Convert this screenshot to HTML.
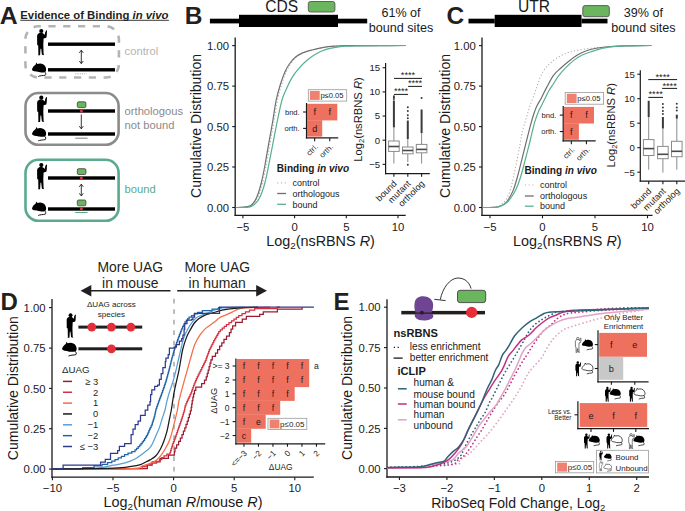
<!DOCTYPE html>
<html><head><meta charset="utf-8"><title>Figure</title>
<style>html,body{margin:0;padding:0;background:#fff;width:685px;height:511px;overflow:hidden}svg{display:block}</style>
</head><body>
<svg width="685" height="511" viewBox="0 0 685 511" font-family='"Liberation Sans", sans-serif'>
<defs>
<g id="hum"><circle cx="13.3" cy="4.5" r="2.1"/><path d="M11.6 6.3 C10.8 6.9 10.2 7.2 9.9 7.6 C9.2 8.3 9.1 9.2 9.1 10.4 L9.2 18.4 L10.2 18.9 L10.4 28.0 L10.0 28.7 L12.1 28.7 L12.5 22.2 L13.2 22.2 L13.9 28.2 L16.3 28.7 L15.6 27.6 L15.3 18.6 L15.6 12.0 L18.3 11.2 C18.8 10.0 18.9 7.5 18.9 5.8 L19.1 4.3 L18.1 3.8 L17.6 5.2 L17.2 5.6 L16.9 8.3 L15.9 7.4 C15.2 7.0 14.6 6.7 14.2 6.3 Z"/></g>
<g id="mou"><path d="M4.0 11.4 C4.3 9.6 6.2 7.6 7.7 6.6 L8.2 4.6 L9.4 6.0 C12.0 5.0 15.6 5.4 17.3 8.4 C18.5 10.5 18.4 12.8 17.2 13.9 C14.6 14.7 11.0 14.6 8.6 13.6 L6.4 13.3 C5.0 12.9 4.0 12.3 4.0 11.4 Z"/><path d="M16.6 13.8 C17.8 14.9 18.1 16.4 17.3 17.2 C15.0 17.7 12.0 17.5 10.2 18.5" fill="none" stroke="#000" stroke-width="0.9"/></g>
<g id="humw"><circle cx="13.3" cy="4.5" r="2.1" fill="#fff" stroke="#000" stroke-width="0.9"/><path d="M11.6 6.3 C10.8 6.9 10.2 7.2 9.9 7.6 C9.2 8.3 9.1 9.2 9.1 10.4 L9.2 18.4 L10.2 18.9 L10.4 28.0 L10.0 28.7 L12.1 28.7 L12.5 22.2 L13.2 22.2 L13.9 28.2 L16.3 28.7 L15.6 27.6 L15.3 18.6 L15.6 12.0 L18.3 11.2 C18.8 10.0 18.9 7.5 18.9 5.8 L19.1 4.3 L18.1 3.8 L17.6 5.2 L17.2 5.6 L16.9 8.3 L15.9 7.4 C15.2 7.0 14.6 6.7 14.2 6.3 Z" fill="#fff" stroke="#000" stroke-width="0.9"/></g>
<g id="mouw"><path d="M4.0 11.4 C4.3 9.6 6.2 7.6 7.7 6.6 L8.2 4.6 L9.4 6.0 C12.0 5.0 15.6 5.4 17.3 8.4 C18.5 10.5 18.4 12.8 17.2 13.9 C14.6 14.7 11.0 14.6 8.6 13.6 L6.4 13.3 C5.0 12.9 4.0 12.3 4.0 11.4 Z" fill="#fff" stroke="#000" stroke-width="0.9"/><path d="M16.6 13.8 C17.8 14.9 18.1 16.4 17.3 17.2 C15.0 17.7 12.0 17.5 10.2 18.5" fill="none" stroke="#000" stroke-width="0.9"/></g>
</defs>
<text x="-0.30" y="23.80" font-size="24.80" text-anchor="start" font-weight="bold" fill="#231f20" >A</text>
<text x="20.3" y="18.7" font-size="11.35" font-weight="bold" fill="#231f20">Evidence of Binding <tspan font-style="italic">in vivo</tspan></text>
<line x1="20.30" y1="20.30" x2="168.90" y2="20.30" stroke="#231f20" stroke-width="0.90" />
<rect x="25.4" y="26.3" width="93.5" height="51.2" rx="13" fill="none" stroke="#b3b5b4" stroke-width="2.6" stroke-dasharray="7.2 7.6" stroke-dashoffset="4.8"/>
<rect x="25.5" y="93" width="93.1" height="51.8" rx="13" fill="none" stroke="#8b8b8b" stroke-width="2.6"/>
<rect x="25.5" y="159.8" width="93.1" height="61" rx="13" fill="none" stroke="#5aaa8c" stroke-width="2.6"/>
<text x="124.60" y="54.80" font-size="11.20" text-anchor="start" font-weight="normal" fill="#b3b3b3" >control</text>
<text x="124.60" y="115.30" font-size="11.20" text-anchor="start" font-weight="normal" fill="#8b8b8b" >orthologous</text>
<text x="124.60" y="128.80" font-size="11.20" text-anchor="start" font-weight="normal" fill="#8b8b8b" >not bound</text>
<text x="124.60" y="193.30" font-size="11.20" text-anchor="start" font-weight="normal" fill="#5aaa8c" >bound</text>
<rect x="48" y="42.50" width="67" height="3.4" fill="#000"/>
<rect x="48" y="68.10" width="67" height="3.4" fill="#000"/>
<use href="#hum" transform="translate(28.00 26.50) scale(1.000)"/>
<use href="#mou" transform="translate(28.00 58.00) scale(1.000)"/>
<rect x="48" y="109.30" width="67" height="3.4" fill="#000"/>
<rect x="48" y="132.30" width="67" height="3.4" fill="#000"/>
<use href="#hum" transform="translate(28.00 93.20) scale(1.000)"/>
<use href="#mou" transform="translate(28.00 122.40) scale(1.000)"/>
<rect x="48" y="176.30" width="67" height="3.4" fill="#000"/>
<rect x="48" y="207.30" width="67" height="3.4" fill="#000"/>
<use href="#hum" transform="translate(28.00 160.60) scale(1.000)"/>
<use href="#mou" transform="translate(28.00 197.00) scale(1.000)"/>
<line x1="81.30" y1="50.20" x2="81.30" y2="63.60" stroke="#231f20" stroke-width="0.90" />
<path d="M79.30 52.80 L81.30 50.20 L83.30 52.80" fill="none" stroke="#231f20" stroke-width="0.9"/>
<path d="M79.30 61.00 L81.30 63.60 L83.30 61.00" fill="none" stroke="#231f20" stroke-width="0.9"/>
<line x1="81.30" y1="114.50" x2="81.30" y2="128.80" stroke="#231f20" stroke-width="0.90" />
<path d="M79.30 126.20 L81.30 128.80 L83.30 126.20" fill="none" stroke="#231f20" stroke-width="0.9"/>
<line x1="81.30" y1="184.20" x2="81.30" y2="195.90" stroke="#231f20" stroke-width="0.90" />
<path d="M79.30 186.80 L81.30 184.20 L83.30 186.80" fill="none" stroke="#231f20" stroke-width="0.9"/>
<path d="M79.30 193.30 L81.30 195.90 L83.30 193.30" fill="none" stroke="#231f20" stroke-width="0.9"/>
<line x1="75.40" y1="73.80" x2="86.70" y2="73.80" stroke="#9a9a9a" stroke-width="0.90" stroke-dasharray="1 1.2"/>
<line x1="75.20" y1="138.20" x2="87.60" y2="138.20" stroke="#8b8b8b" stroke-width="1.10" />
<line x1="75.20" y1="212.50" x2="87.60" y2="212.50" stroke="#5aaa8c" stroke-width="1.10" />
<rect x="77.3" y="101.80" width="8.6" height="5.8" rx="1.3" fill="#6ab55e" stroke="#3d3d3d" stroke-width="0.8"/>
<circle cx="81.4" cy="111.0" r="1.5" fill="#e8303a"/>
<rect x="77.3" y="168.70" width="8.6" height="5.8" rx="1.3" fill="#6ab55e" stroke="#3d3d3d" stroke-width="0.8"/>
<circle cx="81.4" cy="177.9" r="1.5" fill="#e8303a"/>
<rect x="77.3" y="200.00" width="8.6" height="5.8" rx="1.3" fill="#6ab55e" stroke="#3d3d3d" stroke-width="0.8"/>
<circle cx="81.4" cy="208.8" r="1.5" fill="#e8303a"/>
<text x="184.80" y="23.80" font-size="24.50" text-anchor="start" font-weight="bold" fill="#231f20" >B</text>
<rect x="209.90" y="18.7" width="29.10" height="4.7" fill="#000"/>
<rect x="239.00" y="14.8" width="99.00" height="12.2" fill="#000"/>
<rect x="338.00" y="18.7" width="29.20" height="4.7" fill="#000"/>
<line x1="235.20" y1="37.50" x2="235.20" y2="215.95" stroke="#1a1a1a" stroke-width="1.30" />
<line x1="234.55" y1="215.30" x2="405.70" y2="215.30" stroke="#1a1a1a" stroke-width="1.30" />
<line x1="232.20" y1="45.60" x2="235.20" y2="45.60" stroke="#1a1a1a" stroke-width="1.10" />
<text x="229.00" y="49.70" font-size="11.30" text-anchor="end" font-weight="normal" fill="#1a1a1a" >1.00</text>
<line x1="232.20" y1="86.10" x2="235.20" y2="86.10" stroke="#1a1a1a" stroke-width="1.10" />
<text x="229.00" y="90.20" font-size="11.30" text-anchor="end" font-weight="normal" fill="#1a1a1a" >0.75</text>
<line x1="232.20" y1="126.60" x2="235.20" y2="126.60" stroke="#1a1a1a" stroke-width="1.10" />
<text x="229.00" y="130.70" font-size="11.30" text-anchor="end" font-weight="normal" fill="#1a1a1a" >0.50</text>
<line x1="232.20" y1="167.00" x2="235.20" y2="167.00" stroke="#1a1a1a" stroke-width="1.10" />
<text x="229.00" y="171.10" font-size="11.30" text-anchor="end" font-weight="normal" fill="#1a1a1a" >0.25</text>
<line x1="232.20" y1="207.50" x2="235.20" y2="207.50" stroke="#1a1a1a" stroke-width="1.10" />
<text x="229.00" y="211.60" font-size="11.30" text-anchor="end" font-weight="normal" fill="#1a1a1a" >0.00</text>
<line x1="242.90" y1="215.30" x2="242.90" y2="218.30" stroke="#1a1a1a" stroke-width="1.10" />
<text x="242.90" y="230.60" font-size="11.30" text-anchor="middle" font-weight="normal" fill="#1a1a1a" >&#8722;5</text>
<line x1="294.60" y1="215.30" x2="294.60" y2="218.30" stroke="#1a1a1a" stroke-width="1.10" />
<text x="294.60" y="230.60" font-size="11.30" text-anchor="middle" font-weight="normal" fill="#1a1a1a" >0</text>
<line x1="346.30" y1="215.30" x2="346.30" y2="218.30" stroke="#1a1a1a" stroke-width="1.10" />
<text x="346.30" y="230.60" font-size="11.30" text-anchor="middle" font-weight="normal" fill="#1a1a1a" >5</text>
<line x1="398.00" y1="215.30" x2="398.00" y2="218.30" stroke="#1a1a1a" stroke-width="1.10" />
<text x="398.00" y="230.60" font-size="11.30" text-anchor="middle" font-weight="normal" fill="#1a1a1a" >10</text>
<text transform="translate(200.60 126) rotate(-90)" font-size="14.0" text-anchor="middle" fill="#1a1a1a">Cumulative Distribution</text>
<text x="320.50" y="246.3" font-size="14.4" text-anchor="middle" fill="#1a1a1a">Log<tspan font-size="9.8" dy="3">2</tspan><tspan dy="-3">(nsRBNS </tspan><tspan font-style="italic">R</tspan>)</text>
<path d="M236.40 207.50 C237.10 207.49 239.18 207.50 240.60 207.45 C242.02 207.40 243.65 207.34 244.90 207.20 C246.15 207.06 247.02 206.88 248.10 206.60 C249.18 206.32 250.13 206.50 251.40 205.50 C252.67 204.50 254.33 202.65 255.70 200.60 C257.07 198.55 258.43 196.22 259.60 193.20 C260.77 190.18 261.58 187.20 262.70 182.50 C263.82 177.80 265.07 171.57 266.30 165.00 C267.53 158.43 268.83 150.27 270.10 143.10 C271.37 135.93 272.67 129.18 273.90 122.00 C275.13 114.82 276.22 106.22 277.50 100.00 C278.78 93.78 280.13 89.42 281.60 84.70 C283.07 79.98 284.73 75.23 286.30 71.70 C287.87 68.17 289.35 65.95 291.00 63.50 C292.65 61.05 294.17 58.77 296.20 57.00 C298.23 55.23 300.57 54.07 303.20 52.90 C305.83 51.73 308.57 50.93 312.00 50.00 C315.43 49.07 319.88 47.95 323.80 47.30 C327.72 46.65 331.97 46.37 335.50 46.10 C339.03 45.83 339.25 45.78 345.00 45.70 C350.75 45.62 359.83 45.63 370.00 45.60 C380.17 45.57 400.00 45.52 406.00 45.50" fill="none" stroke="#a9a9a9" stroke-width="1.1" stroke-dasharray="1.1 2.2"/>
<path d="M235.80 207.50 C236.50 207.49 238.58 207.50 240.00 207.45 C241.42 207.40 243.05 207.34 244.30 207.20 C245.55 207.06 246.42 206.88 247.50 206.60 C248.58 206.32 249.53 206.50 250.80 205.50 C252.07 204.50 253.85 202.65 255.10 200.60 C256.35 198.55 257.25 196.22 258.30 193.20 C259.35 190.18 260.28 187.20 261.40 182.50 C262.52 177.80 263.77 171.57 265.00 165.00 C266.23 158.43 267.53 150.27 268.80 143.10 C270.07 135.93 271.37 129.18 272.60 122.00 C273.83 114.82 274.92 106.22 276.20 100.00 C277.48 93.78 278.83 89.42 280.30 84.70 C281.77 79.98 283.43 75.23 285.00 71.70 C286.57 68.17 287.93 65.95 289.70 63.50 C291.47 61.05 293.45 58.77 295.60 57.00 C297.75 55.23 299.87 54.07 302.60 52.90 C305.33 51.73 308.47 50.93 312.00 50.00 C315.53 49.07 319.88 47.95 323.80 47.30 C327.72 46.65 331.97 46.37 335.50 46.10 C339.03 45.83 339.25 45.78 345.00 45.70 C350.75 45.62 359.83 45.63 370.00 45.60 C380.17 45.57 400.00 45.52 406.00 45.50" fill="none" stroke="#6f6f6f" stroke-width="1.2"/>
<path d="M235.80 207.50 C236.83 207.49 240.22 207.48 242.00 207.45 C243.78 207.42 245.17 207.41 246.50 207.30 C247.83 207.19 248.93 207.08 250.00 206.80 C251.07 206.52 251.58 206.63 252.90 205.60 C254.22 204.57 256.45 202.67 257.90 200.60 C259.35 198.53 260.42 196.22 261.60 193.20 C262.78 190.18 263.80 187.25 265.00 182.50 C266.20 177.75 267.47 171.27 268.80 164.70 C270.13 158.13 271.60 150.28 273.00 143.10 C274.40 135.92 275.70 128.78 277.20 121.60 C278.70 114.42 280.50 105.37 282.00 100.00 C283.50 94.63 284.53 93.13 286.20 89.40 C287.87 85.67 289.85 81.13 292.00 77.60 C294.15 74.07 296.55 71.13 299.10 68.20 C301.65 65.27 304.37 62.45 307.30 60.00 C310.23 57.55 313.57 55.27 316.70 53.50 C319.83 51.73 322.97 50.43 326.10 49.40 C329.23 48.37 332.35 47.83 335.50 47.30 C338.65 46.77 340.92 46.45 345.00 46.20 C349.08 45.95 354.17 45.90 360.00 45.80 C365.83 45.70 372.33 45.65 380.00 45.60 C387.67 45.55 401.67 45.52 406.00 45.50" fill="none" stroke="#55b08f" stroke-width="1.2"/>
<rect x="308.3" y="1.5" width="26.6" height="10.5" rx="2.2" fill="#6ab55e" stroke="#555" stroke-width="0.9"/>
<text x="281.80" y="11.60" font-size="15.60" text-anchor="middle" font-weight="normal" fill="#1a1a1a" >CDS</text>
<text x="401.00" y="17.00" font-size="12.60" text-anchor="middle" font-weight="normal" fill="#1a1a1a" >61% of</text>
<text x="401.00" y="31.80" font-size="12.60" text-anchor="middle" font-weight="normal" fill="#1a1a1a" >bound sites</text>
<rect x="307.10" y="103.80" width="30.20" height="16.60" fill="#ee705f"/>
<rect x="307.10" y="120.20" width="15.10" height="16.40" fill="#ee705f"/>
<text x="314.65" y="115.20" font-size="9.00" text-anchor="middle" font-weight="normal" fill="#2b1a16" >f</text>
<text x="329.75" y="115.20" font-size="9.00" text-anchor="middle" font-weight="normal" fill="#2b1a16" >f</text>
<text x="314.65" y="131.60" font-size="9.00" text-anchor="middle" font-weight="normal" fill="#2b1a16" >d</text>
<line x1="306.50" y1="103.00" x2="306.50" y2="138.50" stroke="#1a1a1a" stroke-width="1.20" />
<line x1="305.90" y1="137.90" x2="338.20" y2="137.90" stroke="#1a1a1a" stroke-width="1.20" />
<line x1="303.10" y1="112.00" x2="306.50" y2="112.00" stroke="#1a1a1a" stroke-width="1.10" />
<text x="299.70" y="114.70" font-size="7.60" text-anchor="end" font-weight="normal" fill="#1a1a1a" >bnd.</text>
<line x1="303.10" y1="128.40" x2="306.50" y2="128.40" stroke="#1a1a1a" stroke-width="1.10" />
<text x="299.70" y="131.10" font-size="7.60" text-anchor="end" font-weight="normal" fill="#1a1a1a" >orth.</text>
<line x1="314.65" y1="137.90" x2="314.65" y2="141.20" stroke="#1a1a1a" stroke-width="1.10" />
<text transform="translate(318.45 147.30) rotate(-45)" font-size="7.8" text-anchor="end" fill="#1a1a1a">ctrl.</text>
<line x1="329.75" y1="137.90" x2="329.75" y2="141.20" stroke="#1a1a1a" stroke-width="1.10" />
<text transform="translate(333.55 147.30) rotate(-45)" font-size="7.8" text-anchor="end" fill="#1a1a1a">orth.</text>
<rect x="308.30" y="89.70" width="38.40" height="11.40" fill="#fff" stroke="#9a9a9a" stroke-width="0.8"/>
<rect x="309.90" y="90.90" width="9.8" height="9.00" fill="#f08070"/>
<text x="320.40" y="98.30" font-size="7.60" text-anchor="start" font-weight="normal" fill="#1a1a1a" >p&#8804;0.05</text>
<text x="276.80" y="171.60" font-size="10.1" font-weight="bold" fill="#1a1a1a">Binding <tspan font-style="italic">in vivo</tspan></text>
<line x1="277.20" y1="182.80" x2="286.00" y2="182.80" stroke="#b5b5b5" stroke-width="1.20" stroke-dasharray="1.1 2.6"/>
<line x1="277.20" y1="193.50" x2="286.00" y2="193.50" stroke="#6f6f6f" stroke-width="1.30" />
<line x1="277.20" y1="204.30" x2="286.00" y2="204.30" stroke="#55b08f" stroke-width="1.30" />
<text x="292.40" y="186.00" font-size="9.00" text-anchor="start" font-weight="normal" fill="#1a1a1a" >control</text>
<text x="292.40" y="196.70" font-size="9.00" text-anchor="start" font-weight="normal" fill="#1a1a1a" >orthologous</text>
<text x="292.40" y="207.50" font-size="9.00" text-anchor="start" font-weight="normal" fill="#1a1a1a" >bound</text>
<line x1="385.60" y1="62.90" x2="385.60" y2="174.20" stroke="#1a1a1a" stroke-width="1.20" />
<line x1="385.00" y1="173.60" x2="429.80" y2="173.60" stroke="#1a1a1a" stroke-width="1.20" />
<line x1="382.60" y1="67.75" x2="385.60" y2="67.75" stroke="#1a1a1a" stroke-width="1.10" />
<text x="380.20" y="71.15" font-size="9.60" text-anchor="end" font-weight="normal" fill="#1a1a1a" >15</text>
<line x1="382.60" y1="91.90" x2="385.60" y2="91.90" stroke="#1a1a1a" stroke-width="1.10" />
<text x="380.20" y="95.30" font-size="9.60" text-anchor="end" font-weight="normal" fill="#1a1a1a" >10</text>
<line x1="382.60" y1="116.05" x2="385.60" y2="116.05" stroke="#1a1a1a" stroke-width="1.10" />
<text x="380.20" y="119.45" font-size="9.60" text-anchor="end" font-weight="normal" fill="#1a1a1a" >5</text>
<line x1="382.60" y1="140.20" x2="385.60" y2="140.20" stroke="#1a1a1a" stroke-width="1.10" />
<text x="380.20" y="143.60" font-size="9.60" text-anchor="end" font-weight="normal" fill="#1a1a1a" >0</text>
<line x1="382.60" y1="164.35" x2="385.60" y2="164.35" stroke="#1a1a1a" stroke-width="1.10" />
<text x="380.20" y="167.75" font-size="9.60" text-anchor="end" font-weight="normal" fill="#1a1a1a" >&#8722;5</text>
<line x1="393.90" y1="173.60" x2="393.90" y2="176.80" stroke="#1a1a1a" stroke-width="1.10" />
<text transform="translate(397.30 184.20) rotate(-45)" font-size="9.0" text-anchor="end" fill="#1a1a1a">bound</text>
<line x1="407.80" y1="173.60" x2="407.80" y2="176.80" stroke="#1a1a1a" stroke-width="1.10" />
<text transform="translate(411.20 184.20) rotate(-45)" font-size="9.0" text-anchor="end" fill="#1a1a1a">mutant</text>
<line x1="421.60" y1="173.60" x2="421.60" y2="176.80" stroke="#1a1a1a" stroke-width="1.10" />
<text transform="translate(425.00 184.20) rotate(-45)" font-size="9.0" text-anchor="end" fill="#1a1a1a">ortholog</text>
<text transform="translate(361.60 119.50) rotate(-90)" font-size="11.2" text-anchor="middle" fill="#1a1a1a">Log<tspan font-size="7.6" dy="2.4">2</tspan><tspan dy="-2.4">(nsRBNS </tspan><tspan font-style="italic">R</tspan>)</text>
<line x1="393.90" y1="127.40" x2="393.90" y2="141.00" stroke="#8a8a8a" stroke-width="1.00" />
<line x1="393.90" y1="151.40" x2="393.90" y2="163.60" stroke="#8a8a8a" stroke-width="1.00" />
<rect x="388.60" y="141.00" width="10.60" height="10.40" fill="#fff" stroke="#8a8a8a" stroke-width="1.0"/>
<line x1="388.60" y1="146.50" x2="399.20" y2="146.50" stroke="#4a4a4a" stroke-width="1.60" />
<line x1="393.90" y1="127.40" x2="393.90" y2="100.50" stroke="#3a3a3a" stroke-width="2.00" />
<circle cx="393.90" cy="99.00" r="1.0" fill="#3a3a3a"/>
<circle cx="393.90" cy="97.50" r="1.0" fill="#3a3a3a"/>
<circle cx="393.90" cy="96.20" r="1.0" fill="#3a3a3a"/>
<line x1="407.80" y1="139.00" x2="407.80" y2="147.00" stroke="#8a8a8a" stroke-width="1.00" />
<line x1="407.80" y1="153.80" x2="407.80" y2="162.20" stroke="#8a8a8a" stroke-width="1.00" />
<rect x="402.50" y="147.00" width="10.60" height="6.80" fill="#fff" stroke="#8a8a8a" stroke-width="1.0"/>
<line x1="402.50" y1="150.50" x2="413.10" y2="150.50" stroke="#4a4a4a" stroke-width="1.60" />
<line x1="407.80" y1="139.00" x2="407.80" y2="120.50" stroke="#3a3a3a" stroke-width="2.00" />
<circle cx="407.80" cy="118.30" r="1.0" fill="#3a3a3a"/>
<circle cx="407.80" cy="115.20" r="1.0" fill="#3a3a3a"/>
<circle cx="407.80" cy="111.00" r="1.0" fill="#3a3a3a"/>
<circle cx="407.80" cy="107.20" r="1.0" fill="#3a3a3a"/>
<circle cx="407.80" cy="164.80" r="1.0" fill="#3a3a3a"/>
<line x1="421.60" y1="133.00" x2="421.60" y2="144.40" stroke="#8a8a8a" stroke-width="1.00" />
<line x1="421.60" y1="152.80" x2="421.60" y2="163.60" stroke="#8a8a8a" stroke-width="1.00" />
<rect x="416.30" y="144.40" width="10.60" height="8.40" fill="#fff" stroke="#8a8a8a" stroke-width="1.0"/>
<line x1="416.30" y1="149.40" x2="426.90" y2="149.40" stroke="#4a4a4a" stroke-width="1.60" />
<line x1="421.60" y1="133.00" x2="421.60" y2="109.50" stroke="#3a3a3a" stroke-width="2.00" />
<circle cx="421.60" cy="97.90" r="1.0" fill="#3a3a3a"/>
<line x1="394.00" y1="94.40" x2="408.10" y2="94.40" stroke="#1a1a1a" stroke-width="1.00" />
<text x="401.05" y="94.40" font-size="9.20" text-anchor="middle" font-weight="normal" fill="#1a1a1a" >****</text>
<line x1="408.10" y1="86.40" x2="422.00" y2="86.40" stroke="#1a1a1a" stroke-width="1.00" />
<text x="415.05" y="86.40" font-size="9.20" text-anchor="middle" font-weight="normal" fill="#1a1a1a" >****</text>
<line x1="394.00" y1="78.40" x2="422.00" y2="78.40" stroke="#1a1a1a" stroke-width="1.00" />
<text x="408.00" y="78.40" font-size="9.20" text-anchor="middle" font-weight="normal" fill="#1a1a1a" >****</text>
<text x="446.40" y="23.80" font-size="24.50" text-anchor="start" font-weight="bold" fill="#231f20" >C</text>
<rect x="468.50" y="18.7" width="26.20" height="4.7" fill="#000"/>
<rect x="494.70" y="14.8" width="86.80" height="12.2" fill="#000"/>
<rect x="581.50" y="18.7" width="26.00" height="4.7" fill="#000"/>
<line x1="482.00" y1="37.50" x2="482.00" y2="215.95" stroke="#1a1a1a" stroke-width="1.30" />
<line x1="481.35" y1="215.30" x2="652.50" y2="215.30" stroke="#1a1a1a" stroke-width="1.30" />
<line x1="479.00" y1="45.60" x2="482.00" y2="45.60" stroke="#1a1a1a" stroke-width="1.10" />
<text x="475.80" y="49.70" font-size="11.30" text-anchor="end" font-weight="normal" fill="#1a1a1a" >1.00</text>
<line x1="479.00" y1="86.10" x2="482.00" y2="86.10" stroke="#1a1a1a" stroke-width="1.10" />
<text x="475.80" y="90.20" font-size="11.30" text-anchor="end" font-weight="normal" fill="#1a1a1a" >0.75</text>
<line x1="479.00" y1="126.60" x2="482.00" y2="126.60" stroke="#1a1a1a" stroke-width="1.10" />
<text x="475.80" y="130.70" font-size="11.30" text-anchor="end" font-weight="normal" fill="#1a1a1a" >0.50</text>
<line x1="479.00" y1="167.00" x2="482.00" y2="167.00" stroke="#1a1a1a" stroke-width="1.10" />
<text x="475.80" y="171.10" font-size="11.30" text-anchor="end" font-weight="normal" fill="#1a1a1a" >0.25</text>
<line x1="479.00" y1="207.50" x2="482.00" y2="207.50" stroke="#1a1a1a" stroke-width="1.10" />
<text x="475.80" y="211.60" font-size="11.30" text-anchor="end" font-weight="normal" fill="#1a1a1a" >0.00</text>
<line x1="490.00" y1="215.30" x2="490.00" y2="218.30" stroke="#1a1a1a" stroke-width="1.10" />
<text x="490.00" y="230.60" font-size="11.30" text-anchor="middle" font-weight="normal" fill="#1a1a1a" >&#8722;5</text>
<line x1="542.50" y1="215.30" x2="542.50" y2="218.30" stroke="#1a1a1a" stroke-width="1.10" />
<text x="542.50" y="230.60" font-size="11.30" text-anchor="middle" font-weight="normal" fill="#1a1a1a" >0</text>
<line x1="595.00" y1="215.30" x2="595.00" y2="218.30" stroke="#1a1a1a" stroke-width="1.10" />
<text x="595.00" y="230.60" font-size="11.30" text-anchor="middle" font-weight="normal" fill="#1a1a1a" >5</text>
<line x1="647.50" y1="215.30" x2="647.50" y2="218.30" stroke="#1a1a1a" stroke-width="1.10" />
<text x="647.50" y="230.60" font-size="11.30" text-anchor="middle" font-weight="normal" fill="#1a1a1a" >10</text>
<text transform="translate(449.60 126) rotate(-90)" font-size="14.0" text-anchor="middle" fill="#1a1a1a">Cumulative Distribution</text>
<text x="567.30" y="246.3" font-size="14.4" text-anchor="middle" fill="#1a1a1a">Log<tspan font-size="9.8" dy="3">2</tspan><tspan dy="-3">(nsRBNS </tspan><tspan font-style="italic">R</tspan>)</text>
<path d="M482.60 207.50 C483.83 207.48 487.47 207.57 490.00 207.40 C492.53 207.23 495.58 207.25 497.80 206.50 C500.02 205.75 501.73 204.42 503.30 202.90 C504.87 201.38 506.02 199.62 507.20 197.40 C508.38 195.18 509.35 193.00 510.40 189.60 C511.45 186.20 512.45 181.70 513.50 177.00 C514.55 172.30 515.65 166.62 516.70 161.40 C517.75 156.18 518.87 150.60 519.80 145.70 C520.73 140.80 521.28 136.42 522.30 132.00 C523.32 127.58 524.65 123.45 525.90 119.20 C527.15 114.95 528.37 110.73 529.80 106.50 C531.23 102.27 533.20 97.47 534.50 93.80 C535.80 90.13 536.20 88.18 537.60 84.50 C539.00 80.82 540.83 75.20 542.90 71.70 C544.97 68.20 547.25 66.03 550.00 63.50 C552.75 60.97 556.27 58.37 559.40 56.50 C562.53 54.63 565.47 53.38 568.80 52.30 C572.13 51.22 575.68 50.68 579.40 50.00 C583.12 49.32 587.18 48.65 591.10 48.20 C595.02 47.75 598.35 47.67 602.90 47.30 C607.45 46.93 613.05 46.28 618.40 46.00 C623.75 45.72 629.48 45.68 635.00 45.60 C640.52 45.52 648.75 45.52 651.50 45.50" fill="none" stroke="#a9a9a9" stroke-width="1.1" stroke-dasharray="1.1 2.2"/>
<path d="M482.60 207.50 C483.50 207.50 486.25 207.52 488.00 207.50 C489.75 207.48 491.20 207.57 493.10 207.40 C495.00 207.23 497.30 207.25 499.40 206.50 C501.50 205.75 504.00 204.42 505.70 202.90 C507.40 201.38 508.30 199.62 509.60 197.40 C510.90 195.18 512.20 193.00 513.50 189.60 C514.80 186.20 516.08 181.70 517.40 177.00 C518.72 172.30 520.08 166.62 521.40 161.40 C522.72 156.18 524.20 150.12 525.30 145.70 C526.40 141.28 527.08 138.50 528.00 134.90 C528.92 131.30 529.85 127.53 530.80 124.10 C531.75 120.67 532.73 117.23 533.70 114.30 C534.67 111.37 535.30 109.27 536.60 106.50 C537.90 103.73 539.87 100.80 541.50 97.70 C543.13 94.60 544.40 91.63 546.40 87.90 C548.40 84.17 551.13 78.58 553.50 75.30 C555.87 72.02 558.05 70.55 560.60 68.20 C563.15 65.85 566.07 63.35 568.80 61.20 C571.53 59.05 574.27 56.97 577.00 55.30 C579.73 53.63 582.27 52.33 585.20 51.20 C588.13 50.07 591.27 49.20 594.60 48.50 C597.93 47.80 601.23 47.38 605.20 47.00 C609.17 46.62 613.43 46.42 618.40 46.20 C623.37 45.98 629.48 45.82 635.00 45.70 C640.52 45.58 648.75 45.53 651.50 45.50" fill="none" stroke="#6f6f6f" stroke-width="1.2"/>
<path d="M482.60 207.50 C483.83 207.50 487.93 207.53 490.00 207.50 C492.07 207.47 493.30 207.47 495.00 207.30 C496.70 207.13 498.28 207.23 500.20 206.50 C502.12 205.77 504.67 204.42 506.50 202.90 C508.33 201.38 509.63 199.62 511.20 197.40 C512.77 195.18 514.33 193.00 515.90 189.60 C517.47 186.20 519.12 181.70 520.60 177.00 C522.08 172.30 523.42 166.62 524.80 161.40 C526.18 156.18 527.78 150.12 528.90 145.70 C530.02 141.28 530.53 138.82 531.50 134.90 C532.47 130.98 533.60 125.95 534.70 122.20 C535.80 118.45 536.97 115.18 538.10 112.40 C539.23 109.62 540.20 108.12 541.50 105.50 C542.80 102.88 544.65 99.20 545.90 96.70 C547.15 94.20 547.77 92.62 549.00 90.50 C550.23 88.38 551.77 86.35 553.30 84.00 C554.83 81.65 556.20 79.03 558.20 76.40 C560.20 73.77 562.75 70.83 565.30 68.20 C567.85 65.57 570.77 62.75 573.50 60.60 C576.23 58.45 578.77 56.77 581.70 55.30 C584.63 53.83 587.97 52.88 591.10 51.80 C594.23 50.72 597.35 49.63 600.50 48.80 C603.65 47.97 605.92 47.28 610.00 46.80 C614.08 46.32 618.08 46.12 625.00 45.90 C631.92 45.68 647.08 45.57 651.50 45.50" fill="none" stroke="#55b08f" stroke-width="1.2"/>
<rect x="582.8" y="5.6" width="26.5" height="11.1" rx="2.2" fill="#6ab55e" stroke="#555" stroke-width="0.9"/>
<text x="534.10" y="11.60" font-size="15.60" text-anchor="middle" font-weight="normal" fill="#1a1a1a" >UTR</text>
<text x="643.40" y="17.00" font-size="12.60" text-anchor="middle" font-weight="normal" fill="#1a1a1a" >39% of</text>
<text x="643.40" y="31.60" font-size="12.60" text-anchor="middle" font-weight="normal" fill="#1a1a1a" >bound sites</text>
<rect x="563.80" y="106.90" width="30.20" height="16.60" fill="#ee705f"/>
<rect x="563.80" y="123.30" width="15.10" height="16.50" fill="#ee705f"/>
<text x="571.35" y="118.30" font-size="9.00" text-anchor="middle" font-weight="normal" fill="#2b1a16" >f</text>
<text x="586.45" y="118.30" font-size="9.00" text-anchor="middle" font-weight="normal" fill="#2b1a16" >f</text>
<text x="571.35" y="134.75" font-size="9.00" text-anchor="middle" font-weight="normal" fill="#2b1a16" >f</text>
<line x1="563.20" y1="106.10" x2="563.20" y2="141.50" stroke="#1a1a1a" stroke-width="1.20" />
<line x1="562.60" y1="140.90" x2="595.70" y2="140.90" stroke="#1a1a1a" stroke-width="1.20" />
<line x1="559.80" y1="115.10" x2="563.20" y2="115.10" stroke="#1a1a1a" stroke-width="1.10" />
<text x="556.40" y="117.80" font-size="7.60" text-anchor="end" font-weight="normal" fill="#1a1a1a" >bnd.</text>
<line x1="559.80" y1="131.55" x2="563.20" y2="131.55" stroke="#1a1a1a" stroke-width="1.10" />
<text x="556.40" y="134.25" font-size="7.60" text-anchor="end" font-weight="normal" fill="#1a1a1a" >orth.</text>
<line x1="571.35" y1="140.90" x2="571.35" y2="144.20" stroke="#1a1a1a" stroke-width="1.10" />
<text transform="translate(575.15 150.30) rotate(-45)" font-size="7.8" text-anchor="end" fill="#1a1a1a">ctrl.</text>
<line x1="586.45" y1="140.90" x2="586.45" y2="144.20" stroke="#1a1a1a" stroke-width="1.10" />
<text transform="translate(590.25 150.30) rotate(-45)" font-size="7.8" text-anchor="end" fill="#1a1a1a">orth.</text>
<rect x="565.20" y="92.50" width="38.40" height="11.70" fill="#fff" stroke="#9a9a9a" stroke-width="0.8"/>
<rect x="566.80" y="93.70" width="9.8" height="9.30" fill="#f08070"/>
<text x="577.30" y="101.10" font-size="7.60" text-anchor="start" font-weight="normal" fill="#1a1a1a" >p&#8804;0.05</text>
<text x="524.50" y="173.60" font-size="10.1" font-weight="bold" fill="#1a1a1a">Binding <tspan font-style="italic">in vivo</tspan></text>
<line x1="524.90" y1="185.00" x2="533.70" y2="185.00" stroke="#b5b5b5" stroke-width="1.20" stroke-dasharray="1.1 2.6"/>
<line x1="524.90" y1="196.00" x2="533.70" y2="196.00" stroke="#6f6f6f" stroke-width="1.30" />
<line x1="524.90" y1="206.20" x2="533.70" y2="206.20" stroke="#55b08f" stroke-width="1.30" />
<text x="540.10" y="188.20" font-size="9.00" text-anchor="start" font-weight="normal" fill="#1a1a1a" >control</text>
<text x="540.10" y="199.20" font-size="9.00" text-anchor="start" font-weight="normal" fill="#1a1a1a" >orthologous</text>
<text x="540.10" y="209.40" font-size="9.00" text-anchor="start" font-weight="normal" fill="#1a1a1a" >bound</text>
<line x1="640.30" y1="70.20" x2="640.30" y2="181.70" stroke="#1a1a1a" stroke-width="1.20" />
<line x1="639.70" y1="181.10" x2="686.00" y2="181.10" stroke="#1a1a1a" stroke-width="1.20" />
<line x1="637.30" y1="74.20" x2="640.30" y2="74.20" stroke="#1a1a1a" stroke-width="1.10" />
<text x="634.90" y="77.60" font-size="9.60" text-anchor="end" font-weight="normal" fill="#1a1a1a" >15</text>
<line x1="637.30" y1="98.70" x2="640.30" y2="98.70" stroke="#1a1a1a" stroke-width="1.10" />
<text x="634.90" y="102.10" font-size="9.60" text-anchor="end" font-weight="normal" fill="#1a1a1a" >10</text>
<line x1="637.30" y1="123.20" x2="640.30" y2="123.20" stroke="#1a1a1a" stroke-width="1.10" />
<text x="634.90" y="126.60" font-size="9.60" text-anchor="end" font-weight="normal" fill="#1a1a1a" >5</text>
<line x1="637.30" y1="147.70" x2="640.30" y2="147.70" stroke="#1a1a1a" stroke-width="1.10" />
<text x="634.90" y="151.10" font-size="9.60" text-anchor="end" font-weight="normal" fill="#1a1a1a" >0</text>
<line x1="637.30" y1="172.20" x2="640.30" y2="172.20" stroke="#1a1a1a" stroke-width="1.10" />
<text x="634.90" y="175.60" font-size="9.60" text-anchor="end" font-weight="normal" fill="#1a1a1a" >&#8722;5</text>
<line x1="648.70" y1="181.10" x2="648.70" y2="184.30" stroke="#1a1a1a" stroke-width="1.10" />
<text transform="translate(652.10 191.70) rotate(-45)" font-size="9.0" text-anchor="end" fill="#1a1a1a">bound</text>
<line x1="662.90" y1="181.10" x2="662.90" y2="184.30" stroke="#1a1a1a" stroke-width="1.10" />
<text transform="translate(666.30 191.70) rotate(-45)" font-size="9.0" text-anchor="end" fill="#1a1a1a">mutant</text>
<line x1="676.80" y1="181.10" x2="676.80" y2="184.30" stroke="#1a1a1a" stroke-width="1.10" />
<text transform="translate(680.20 191.70) rotate(-45)" font-size="9.0" text-anchor="end" fill="#1a1a1a">ortholog</text>
<text transform="translate(614.60 125.30) rotate(-90)" font-size="11.2" text-anchor="middle" fill="#1a1a1a">Log<tspan font-size="7.6" dy="2.4">2</tspan><tspan dy="-2.4">(nsRBNS </tspan><tspan font-style="italic">R</tspan>)</text>
<line x1="648.70" y1="117.00" x2="648.70" y2="139.60" stroke="#8a8a8a" stroke-width="1.00" />
<line x1="648.70" y1="155.50" x2="648.70" y2="169.70" stroke="#8a8a8a" stroke-width="1.00" />
<rect x="643.40" y="139.60" width="10.60" height="15.90" fill="#fff" stroke="#8a8a8a" stroke-width="1.0"/>
<line x1="643.40" y1="148.60" x2="654.00" y2="148.60" stroke="#4a4a4a" stroke-width="1.60" />
<line x1="648.70" y1="117.00" x2="648.70" y2="100.80" stroke="#3a3a3a" stroke-width="2.00" />
<line x1="662.90" y1="128.50" x2="662.90" y2="146.40" stroke="#8a8a8a" stroke-width="1.00" />
<line x1="662.90" y1="158.70" x2="662.90" y2="172.60" stroke="#8a8a8a" stroke-width="1.00" />
<rect x="657.60" y="146.40" width="10.60" height="12.30" fill="#fff" stroke="#8a8a8a" stroke-width="1.0"/>
<line x1="657.60" y1="154.30" x2="668.20" y2="154.30" stroke="#4a4a4a" stroke-width="1.60" />
<line x1="662.90" y1="128.50" x2="662.90" y2="117.00" stroke="#3a3a3a" stroke-width="2.00" />
<circle cx="662.90" cy="114.00" r="1.0" fill="#3a3a3a"/>
<circle cx="662.90" cy="111.00" r="1.0" fill="#3a3a3a"/>
<circle cx="662.90" cy="107.50" r="1.0" fill="#3a3a3a"/>
<circle cx="662.90" cy="104.00" r="1.0" fill="#3a3a3a"/>
<line x1="676.80" y1="118.70" x2="676.80" y2="141.30" stroke="#8a8a8a" stroke-width="1.00" />
<line x1="676.80" y1="156.70" x2="676.80" y2="169.70" stroke="#8a8a8a" stroke-width="1.00" />
<rect x="671.50" y="141.30" width="10.60" height="15.40" fill="#fff" stroke="#8a8a8a" stroke-width="1.0"/>
<line x1="671.50" y1="151.30" x2="682.10" y2="151.30" stroke="#4a4a4a" stroke-width="1.60" />
<line x1="676.80" y1="118.70" x2="676.80" y2="114.70" stroke="#3a3a3a" stroke-width="2.00" />
<circle cx="676.80" cy="110.50" r="1.0" fill="#3a3a3a"/>
<circle cx="676.80" cy="107.40" r="1.0" fill="#3a3a3a"/>
<circle cx="676.80" cy="103.80" r="1.0" fill="#3a3a3a"/>
<line x1="648.30" y1="97.40" x2="663.00" y2="97.40" stroke="#1a1a1a" stroke-width="1.00" />
<text x="655.65" y="97.00" font-size="9.20" text-anchor="middle" font-weight="normal" fill="#1a1a1a" >****</text>
<line x1="662.10" y1="88.40" x2="677.10" y2="88.40" stroke="#1a1a1a" stroke-width="1.00" />
<text x="669.60" y="88.50" font-size="9.20" text-anchor="middle" font-weight="normal" fill="#1a1a1a" >****</text>
<line x1="648.30" y1="79.60" x2="677.10" y2="79.60" stroke="#1a1a1a" stroke-width="1.00" />
<text x="662.70" y="79.70" font-size="9.20" text-anchor="middle" font-weight="normal" fill="#1a1a1a" >****</text>
<text x="0.60" y="310.30" font-size="24.00" text-anchor="start" font-weight="bold" fill="#231f20" >D</text>
<line x1="52.00" y1="299.00" x2="52.00" y2="477.85" stroke="#1a1a1a" stroke-width="1.30" />
<line x1="51.35" y1="477.20" x2="313.80" y2="477.20" stroke="#1a1a1a" stroke-width="1.30" />
<line x1="49.00" y1="307.60" x2="52.00" y2="307.60" stroke="#1a1a1a" stroke-width="1.10" />
<text x="45.60" y="311.70" font-size="11.30" text-anchor="end" font-weight="normal" fill="#1a1a1a" >1.00</text>
<line x1="49.00" y1="348.10" x2="52.00" y2="348.10" stroke="#1a1a1a" stroke-width="1.10" />
<text x="45.60" y="352.20" font-size="11.30" text-anchor="end" font-weight="normal" fill="#1a1a1a" >0.75</text>
<line x1="49.00" y1="388.40" x2="52.00" y2="388.40" stroke="#1a1a1a" stroke-width="1.10" />
<text x="45.60" y="392.50" font-size="11.30" text-anchor="end" font-weight="normal" fill="#1a1a1a" >0.50</text>
<line x1="49.00" y1="428.70" x2="52.00" y2="428.70" stroke="#1a1a1a" stroke-width="1.10" />
<text x="45.60" y="432.80" font-size="11.30" text-anchor="end" font-weight="normal" fill="#1a1a1a" >0.25</text>
<line x1="49.00" y1="469.10" x2="52.00" y2="469.10" stroke="#1a1a1a" stroke-width="1.10" />
<text x="45.60" y="473.20" font-size="11.30" text-anchor="end" font-weight="normal" fill="#1a1a1a" >0.00</text>
<line x1="52.40" y1="477.20" x2="52.40" y2="480.20" stroke="#1a1a1a" stroke-width="1.10" />
<text x="52.40" y="491.60" font-size="11.30" text-anchor="middle" font-weight="normal" fill="#1a1a1a" >&#8722;10</text>
<line x1="113.00" y1="477.20" x2="113.00" y2="480.20" stroke="#1a1a1a" stroke-width="1.10" />
<text x="113.00" y="491.60" font-size="11.30" text-anchor="middle" font-weight="normal" fill="#1a1a1a" >&#8722;5</text>
<line x1="173.60" y1="477.20" x2="173.60" y2="480.20" stroke="#1a1a1a" stroke-width="1.10" />
<text x="173.60" y="491.60" font-size="11.30" text-anchor="middle" font-weight="normal" fill="#1a1a1a" >0</text>
<line x1="234.20" y1="477.20" x2="234.20" y2="480.20" stroke="#1a1a1a" stroke-width="1.10" />
<text x="234.20" y="491.60" font-size="11.30" text-anchor="middle" font-weight="normal" fill="#1a1a1a" >5</text>
<line x1="294.80" y1="477.20" x2="294.80" y2="480.20" stroke="#1a1a1a" stroke-width="1.10" />
<text x="294.80" y="491.60" font-size="11.30" text-anchor="middle" font-weight="normal" fill="#1a1a1a" >10</text>
<text transform="translate(18.3 388.2) rotate(-90)" font-size="14.0" text-anchor="middle" fill="#1a1a1a">Cumulative Distribution</text>
<text x="183" y="506.6" font-size="14.4" text-anchor="middle" fill="#1a1a1a">Log<tspan font-size="9.8" dy="3">2</tspan><tspan dy="-3">(human </tspan><tspan font-style="italic">R</tspan>/mouse <tspan font-style="italic">R</tspan>)</text>
<line x1="174.00" y1="298.80" x2="174.00" y2="476.50" stroke="#b5b5b5" stroke-width="1.80" stroke-dasharray="4.8 5.7"/>
<line x1="88.00" y1="290.70" x2="170.50" y2="290.70" stroke="#231f20" stroke-width="1.40" />
<path d="M80.5 290.7 L91.3 285 L91.3 296.5 Z" fill="#231f20"/>
<line x1="177.20" y1="290.70" x2="259.50" y2="290.70" stroke="#231f20" stroke-width="1.40" />
<path d="M267.0 290.7 L256.2 285 L256.2 296.5 Z" fill="#231f20"/>
<text x="130.30" y="271.90" font-size="13.90" text-anchor="middle" font-weight="normal" fill="#231f20" >More UAG</text>
<text x="130.30" y="287.90" font-size="13.90" text-anchor="middle" font-weight="normal" fill="#231f20" >in mouse</text>
<text x="217.20" y="271.90" font-size="13.90" text-anchor="middle" font-weight="normal" fill="#231f20" >More UAG</text>
<text x="217.20" y="287.90" font-size="13.90" text-anchor="middle" font-weight="normal" fill="#231f20" >in human</text>
<text x="111.40" y="306.80" font-size="8.10" text-anchor="middle" font-weight="normal" fill="#231f20" >&#916;UAG across</text>
<text x="111.40" y="316.70" font-size="8.10" text-anchor="middle" font-weight="normal" fill="#231f20" >species</text>
<rect x="78.4" y="325.6" width="63.8" height="3.0" fill="#231f20"/>
<rect x="78.4" y="347.3" width="63.8" height="3.0" fill="#231f20"/>
<circle cx="91.8" cy="327.1" r="4.4" fill="#e52e3a"/>
<circle cx="111.4" cy="327.1" r="4.4" fill="#e52e3a"/>
<circle cx="130.9" cy="327.1" r="4.4" fill="#e52e3a"/>
<circle cx="111.4" cy="348.8" r="4.4" fill="#e52e3a"/>
<use href="#hum" transform="translate(58.20 311.00) scale(0.930)"/>
<use href="#mou" transform="translate(58.00 337.00) scale(1.030)"/>
<text x="62.00" y="372.80" font-size="9.70" text-anchor="start" font-weight="normal" fill="#231f20" >&#916;UAG</text>
<line x1="63.00" y1="381.40" x2="72.00" y2="381.40" stroke="#9e1a2e" stroke-width="1.50" />
<text x="98.20" y="384.70" font-size="9.40" text-anchor="end" font-weight="normal" fill="#231f20" >&#8805; 3</text>
<line x1="63.00" y1="392.25" x2="72.00" y2="392.25" stroke="#d62f3f" stroke-width="1.50" />
<text x="98.20" y="395.55" font-size="9.40" text-anchor="end" font-weight="normal" fill="#231f20" >2</text>
<line x1="63.00" y1="403.10" x2="72.00" y2="403.10" stroke="#f46d43" stroke-width="1.50" />
<text x="98.20" y="406.40" font-size="9.40" text-anchor="end" font-weight="normal" fill="#231f20" >1</text>
<line x1="63.00" y1="413.95" x2="72.00" y2="413.95" stroke="#1a1a1a" stroke-width="1.50" />
<text x="98.20" y="417.25" font-size="9.40" text-anchor="end" font-weight="normal" fill="#231f20" >0</text>
<line x1="63.00" y1="424.80" x2="72.00" y2="424.80" stroke="#5b9ed6" stroke-width="1.50" />
<text x="98.20" y="428.10" font-size="9.40" text-anchor="end" font-weight="normal" fill="#231f20" >&#8722;1</text>
<line x1="63.00" y1="435.65" x2="72.00" y2="435.65" stroke="#1f65a6" stroke-width="1.50" />
<text x="98.20" y="438.95" font-size="9.40" text-anchor="end" font-weight="normal" fill="#231f20" >&#8722;2</text>
<line x1="63.00" y1="446.50" x2="72.00" y2="446.50" stroke="#2e3a8f" stroke-width="1.50" />
<text x="98.20" y="449.80" font-size="9.40" text-anchor="end" font-weight="normal" fill="#231f20" >&#8804; &#8722;3</text>
<path d="M52.00 469.10 L145.00 468.60 L147.39 468.60 L147.39 465.20 L152.16 465.20 L152.16 461.80 L160.13 461.80 L160.13 458.40 L168.41 458.40 L168.41 455.00 L174.34 455.00 L174.34 451.60 L174.98 451.60 L174.98 448.20 L176.60 448.20 L176.60 444.80 L178.65 444.80 L178.65 441.40 L180.35 441.40 L180.35 438.00 L181.99 438.00 L181.99 434.60 L183.40 434.60 L183.40 431.20 L184.78 431.20 L184.78 427.80 L186.01 427.80 L186.01 424.40 L187.24 424.40 L187.24 421.00 L188.32 421.00 L188.32 417.60 L189.34 417.60 L189.34 414.20 L190.35 414.20 L190.35 410.80 L191.23 410.80 L191.23 407.40 L191.72 407.40 L191.72 404.00 L192.21 404.00 L192.21 400.60 L192.87 400.60 L192.87 397.20 L193.57 397.20 L193.57 393.80 L194.50 393.80 L194.50 390.40 L195.80 390.40 L195.80 387.00 L201.60 387.00 L201.60 383.60 L204.51 383.60 L204.51 380.20 L206.25 380.20 L206.25 376.80 L207.25 376.80 L207.25 373.40 L208.18 373.40 L208.18 370.00 L209.11 370.00 L209.11 366.60 L210.03 366.60 L210.03 363.20 L210.94 363.20 L210.94 359.80 L212.30 359.80 L212.30 356.40 L215.50 356.40 L215.50 353.00 L217.58 353.00 L217.58 349.60 L219.65 349.60 L219.65 346.20 L221.80 346.20 L221.80 342.80 L223.97 342.80 L223.97 339.40 L226.50 339.40 L226.50 336.00 L229.43 336.00 L229.43 332.60 L231.05 332.60 L231.05 329.20 L232.67 329.20 L232.67 325.80 L235.57 325.80 L235.57 322.40 L242.27 322.40 L242.27 319.00 L246.40 319.00 L246.40 316.40 L259.70 316.40 L259.70 314.30 L263.30 314.30 L263.30 311.80 L277.40 311.80 L277.40 309.20 L302.10 309.20 L302.10 307.20" fill="none" stroke="#9e1a2e" stroke-width="1.25" stroke-linejoin="miter"/>
<path d="M52.00 469.10 L140.00 468.50 L142.09 468.50 L142.09 466.70 L146.28 466.70 L146.28 464.90 L151.17 464.90 L151.17 463.10 L156.64 463.10 L156.64 461.30 L159.53 461.30 L159.53 459.50 L161.79 459.50 L161.79 457.70 L164.04 457.70 L164.04 455.90 L166.87 455.90 L166.87 454.10 L170.06 454.10 L170.06 452.30 L170.62 452.30 L170.62 450.50 L171.17 450.50 L171.17 448.70 L171.73 448.70 L171.73 446.90 L172.28 446.90 L172.28 445.10 L172.84 445.10 L172.84 443.30 L173.53 443.30 L173.53 441.50 L174.25 441.50 L174.25 439.70 L174.96 439.70 L174.96 437.90 L175.61 437.90 L175.61 436.10 L176.22 436.10 L176.22 434.30 L176.83 434.30 L176.83 432.50 L177.44 432.50 L177.44 430.70 L178.05 430.70 L178.05 428.90 L178.66 428.90 L178.66 427.10 L179.30 427.10 L179.30 425.30 L179.93 425.30 L179.93 423.50 L180.57 423.50 L180.57 421.70 L181.20 421.70 L181.20 419.90 L181.82 419.90 L181.82 418.10 L182.38 418.10 L182.38 416.30 L182.93 416.30 L182.93 414.50 L183.49 414.50 L183.49 412.70 L184.04 412.70 L184.04 410.90 L184.60 410.90 L184.60 409.10 L184.90 409.10 L184.90 407.30 L185.20 407.30 L185.20 405.50 L185.96 405.50 L185.96 403.70 L186.72 403.70 L186.72 401.90 L187.48 401.90 L187.48 400.10 L188.25 400.10 L188.25 398.30 L189.13 398.30 L189.13 396.50 L190.02 396.50 L190.02 394.70 L190.90 394.70 L190.90 392.90 L191.60 392.90 L191.60 391.10 L192.23 391.10 L192.23 389.30 L192.87 389.30 L192.87 387.50 L193.50 387.50 L193.50 385.70 L194.17 385.70 L194.17 383.90 L194.91 383.90 L194.91 382.10 L195.66 382.10 L195.66 380.30 L196.40 380.30 L196.40 378.50 L197.28 378.50 L197.28 376.70 L198.17 376.70 L198.17 374.90 L199.05 374.90 L199.05 373.10 L199.95 373.10 L199.95 371.30 L200.85 371.30 L200.85 369.50 L201.75 369.50 L201.75 367.70 L202.65 367.70 L202.65 365.90 L203.55 365.90 L203.55 364.10 L204.42 364.10 L204.42 362.30 L205.25 362.30 L205.25 360.50 L206.04 360.50 L206.04 358.70 L206.69 358.70 L206.69 356.90 L207.33 356.90 L207.33 355.10 L207.98 355.10 L207.98 353.30 L208.62 353.30 L208.62 351.50 L209.26 351.50 L209.26 349.70 L210.15 349.70 L210.15 347.90 L211.05 347.90 L211.05 346.10 L211.95 346.10 L211.95 344.30 L212.85 344.30 L212.85 342.50 L213.75 342.50 L213.75 340.70 L214.73 340.70 L214.73 338.90 L215.75 338.90 L215.75 337.10 L216.76 337.10 L216.76 335.30 L217.78 335.30 L217.78 333.50 L218.79 333.50 L218.79 331.70 L220.29 331.70 L220.29 329.90 L222.27 329.90 L222.27 328.10 L224.26 328.10 L224.26 326.30 L226.38 326.30 L226.38 324.50 L228.97 324.50 L228.97 322.70 L231.56 322.70 L231.56 320.90 L233.95 320.90 L233.95 319.10 L236.32 319.10 L236.32 317.30 L238.70 317.30 L238.70 315.50 L242.02 315.50 L242.02 313.70 L245.49 313.70 L245.49 311.90 L249.48 311.90 L249.48 310.10 L254.70 310.10 L254.70 308.70 L258.20 308.70 L277.10 308.70 L277.10 307.20 L280.00 307.20" fill="none" stroke="#d62f3f" stroke-width="1.25" stroke-linejoin="miter"/>
<path d="M52.00 469.10 C65.00 469.02 115.00 469.12 130.00 468.60 C145.00 468.08 138.67 466.87 142.00 466.00 C145.33 465.13 147.68 464.32 150.00 463.40 C152.32 462.48 154.13 461.77 155.90 460.50 C157.67 459.23 159.03 457.77 160.60 455.80 C162.17 453.83 163.83 451.25 165.30 448.70 C166.77 446.15 168.23 443.43 169.40 440.50 C170.57 437.57 171.33 434.62 172.30 431.10 C173.27 427.58 174.35 422.92 175.20 419.40 C176.05 415.88 176.80 412.95 177.40 410.00 C178.00 407.05 178.18 404.65 178.80 401.70 C179.42 398.75 180.23 395.63 181.10 392.30 C181.97 388.97 183.02 385.23 184.00 381.70 C184.98 378.17 185.97 374.77 187.00 371.10 C188.03 367.43 189.23 363.13 190.20 359.70 C191.17 356.27 191.97 353.22 192.80 350.50 C193.63 347.78 194.02 345.95 195.20 343.40 C196.38 340.85 198.33 337.53 199.90 335.20 C201.47 332.87 203.03 330.97 204.60 329.40 C206.17 327.83 207.73 326.98 209.30 325.80 C210.87 324.62 212.23 323.67 214.00 322.30 C215.77 320.93 218.32 318.67 219.90 317.60 C221.48 316.53 221.73 316.68 223.50 315.90 C225.27 315.12 228.15 313.98 230.50 312.90 C232.85 311.82 235.25 310.22 237.60 309.40 C239.95 308.58 240.87 308.35 244.60 308.00 C248.33 307.65 255.77 307.43 260.00 307.30 C264.23 307.17 268.33 307.22 270.00 307.20" fill="none" stroke="#f46d43" stroke-width="1.25" stroke-linejoin="miter"/>
<path d="M52.00 469.10 C58.33 469.02 81.72 468.87 90.00 468.60 C98.28 468.33 97.78 468.07 101.70 467.50 C105.62 466.93 109.58 465.98 113.50 465.20 C117.42 464.42 121.68 463.78 125.20 462.80 C128.72 461.82 131.85 460.67 134.60 459.30 C137.35 457.93 139.55 456.17 141.70 454.60 C143.85 453.03 146.12 451.07 147.50 449.90 C148.88 448.73 149.20 448.58 150.00 447.60 C150.80 446.62 151.32 445.97 152.30 444.00 C153.28 442.03 154.72 438.53 155.90 435.80 C157.08 433.07 158.33 430.53 159.40 427.60 C160.47 424.67 161.37 421.13 162.30 418.20 C163.23 415.27 164.25 412.75 165.00 410.00 C165.75 407.25 166.07 404.65 166.80 401.70 C167.53 398.75 168.38 395.63 169.40 392.30 C170.42 388.97 171.83 385.23 172.90 381.70 C173.97 378.17 174.90 374.72 175.80 371.10 C176.70 367.48 177.47 363.60 178.30 360.00 C179.13 356.40 179.93 353.05 180.80 349.50 C181.67 345.95 182.57 341.67 183.50 338.70 C184.43 335.73 185.23 334.03 186.40 331.70 C187.57 329.37 189.03 326.85 190.50 324.70 C191.97 322.55 193.43 320.37 195.20 318.80 C196.97 317.23 198.75 316.38 201.10 315.30 C203.45 314.22 206.98 313.18 209.30 312.30 C211.62 311.42 212.88 310.72 215.00 310.00 C217.12 309.28 218.67 308.45 222.00 308.00 C225.33 307.55 231.17 307.43 235.00 307.30 C238.83 307.17 243.33 307.22 245.00 307.20" fill="none" stroke="#5b9ed6" stroke-width="1.25" stroke-linejoin="miter"/>
<path d="M52.00 469.10 L82.73 469.10 L82.73 467.50 L94.07 467.50 L94.07 465.90 L102.05 465.90 L102.05 464.30 L107.58 464.30 L107.58 462.70 L111.80 462.70 L111.80 461.10 L115.00 461.10 L115.00 459.50 L118.20 459.50 L118.20 457.90 L121.40 457.90 L121.40 456.30 L124.60 456.30 L124.60 454.70 L128.04 454.70 L128.04 453.10 L131.79 453.10 L131.79 451.50 L135.00 451.50 L135.00 449.90 L136.60 449.90 L136.60 448.30 L138.20 448.30 L138.20 446.70 L139.70 446.70 L139.70 445.10 L140.97 445.10 L140.97 443.50 L142.25 443.50 L142.25 441.90 L143.52 441.90 L143.52 440.30 L144.60 440.30 L144.60 438.70 L145.57 438.70 L145.57 437.10 L146.53 437.10 L146.53 435.50 L147.50 435.50 L147.50 433.90 L148.18 433.90 L148.18 432.30 L148.86 432.30 L148.86 430.70 L149.53 430.70 L149.53 429.10 L150.26 429.10 L150.26 427.50 L151.08 427.50 L151.08 425.90 L151.86 425.90 L151.86 424.30 L152.36 424.30 L152.36 422.70 L152.85 422.70 L152.85 421.10 L153.34 421.10 L153.34 419.50 L153.84 419.50 L153.84 417.90 L154.33 417.90 L154.33 416.30 L154.78 416.30 L154.78 414.70 L155.11 414.70 L155.11 413.10 L155.43 413.10 L155.43 411.50 L155.76 411.50 L155.76 409.90 L156.21 409.90 L156.21 408.30 L156.77 408.30 L156.77 406.70 L157.33 406.70 L157.33 405.10 L157.89 405.10 L157.89 403.50 L158.45 403.50 L158.45 401.90 L159.02 401.90 L159.02 400.30 L159.62 400.30 L159.62 398.70 L160.21 398.70 L160.21 397.10 L160.81 397.10 L160.81 395.50 L161.41 395.50 L161.41 393.90 L162.00 393.90 L162.00 392.30 L162.57 392.30 L162.57 390.70 L163.12 390.70 L163.12 389.10 L163.66 389.10 L163.66 387.50 L164.20 387.50 L164.20 385.90 L164.75 385.90 L164.75 384.30 L165.29 384.30 L165.29 382.70 L165.83 382.70 L165.83 381.10 L166.28 381.10 L166.28 379.50 L166.72 379.50 L166.72 377.90 L167.16 377.90 L167.16 376.30 L167.60 376.30 L167.60 374.70 L168.03 374.70 L168.03 373.10 L168.47 373.10 L168.47 371.50 L168.90 371.50 L168.90 369.90 L169.30 369.90 L169.30 368.30 L169.69 368.30 L169.69 366.70 L170.09 366.70 L170.09 365.10 L170.49 365.10 L170.49 363.50 L170.88 363.50 L170.88 361.90 L171.28 361.90 L171.28 360.30 L171.68 360.30 L171.68 358.70 L172.11 358.70 L172.11 357.10 L172.56 357.10 L172.56 355.50 L173.00 355.50 L173.00 353.90 L173.44 353.90 L173.44 352.30 L173.89 352.30 L173.89 350.70 L174.33 350.70 L174.33 349.10 L174.89 349.10 L174.89 347.50 L175.44 347.50 L175.44 345.90 L175.99 345.90 L175.99 344.30 L176.54 344.30 L176.54 342.70 L177.10 342.70 L177.10 341.10 L177.65 341.10 L177.65 339.50 L178.20 339.50 L178.20 337.90 L178.80 337.90 L178.80 336.30 L179.40 336.30 L179.40 334.70 L180.01 334.70 L180.01 333.10 L180.61 333.10 L180.61 331.50 L181.21 331.50 L181.21 329.90 L181.85 329.90 L181.85 328.30 L182.64 328.30 L182.64 326.70 L183.43 326.70 L183.43 325.10 L184.21 325.10 L184.21 323.50 L185.00 323.50 L185.00 321.90 L186.27 321.90 L186.27 320.30 L187.70 320.30 L187.70 318.70 L189.13 318.70 L189.13 317.10 L191.55 317.10 L191.55 315.50 L194.21 315.50 L194.21 313.90 L197.66 313.90 L197.66 312.30 L202.35 312.30 L202.35 310.70 L212.09 310.70 L212.09 309.10 L218.41 309.10 L218.41 307.50 L221.27 307.50 L221.27 307.20" fill="none" stroke="#1f65a6" stroke-width="1.25" stroke-linejoin="miter"/>
<path d="M52.00 469.10 C62.25 468.93 100.32 468.55 113.50 468.10 C126.68 467.65 126.60 466.98 131.10 466.40 C135.60 465.82 137.95 465.38 140.50 464.60 C143.05 463.82 144.82 462.48 146.40 461.70 C147.98 460.92 148.42 460.88 150.00 459.90 C151.58 458.92 154.13 457.67 155.90 455.80 C157.67 453.93 159.23 451.25 160.60 448.70 C161.97 446.15 163.03 443.43 164.10 440.50 C165.17 437.57 166.12 434.62 167.00 431.10 C167.88 427.58 168.68 422.92 169.40 419.40 C170.12 415.88 170.77 412.95 171.30 410.00 C171.83 407.05 172.13 404.65 172.60 401.70 C173.07 398.75 173.47 395.63 174.10 392.30 C174.73 388.97 175.62 385.23 176.40 381.70 C177.18 378.17 178.07 374.77 178.80 371.10 C179.53 367.43 180.13 363.38 180.80 359.70 C181.47 356.02 181.87 352.68 182.80 349.00 C183.73 345.32 185.22 340.68 186.40 337.60 C187.58 334.52 188.63 332.85 189.90 330.50 C191.17 328.15 192.53 325.45 194.00 323.50 C195.47 321.55 196.93 320.17 198.70 318.80 C200.47 317.43 202.25 316.28 204.60 315.30 C206.95 314.32 209.90 313.75 212.80 312.90 C215.70 312.05 218.30 310.97 222.00 310.20 C225.70 309.43 230.33 308.77 235.00 308.30 C239.67 307.83 246.17 307.58 250.00 307.40 C253.83 307.22 256.67 307.23 258.00 307.20" fill="none" stroke="#1a1a1a" stroke-width="1.25" stroke-linejoin="miter"/>
<path d="M52.00 469.10 L63.10 469.10 L63.10 465.20 L100.60 465.20 L100.60 462.20 L105.30 462.20 L105.30 459.30 L110.50 459.30 L110.50 453.40 L117.60 453.40 L117.60 450.50 L119.40 450.50 L119.40 446.40 L124.60 446.40 L124.60 443.50 L131.10 443.50 L131.10 434.70 L133.00 434.70 L133.00 429.00 L135.20 429.00 L135.20 424.70 L138.10 424.70 L138.10 421.20 L140.50 421.20 L140.50 415.30 L145.20 415.30 L145.20 410.00 L147.80 410.00 L147.80 405.00 L150.00 405.00 L150.00 401.70 L150.60 401.70 L150.60 394.60 L151.80 394.60 L151.80 389.90 L154.70 389.90 L154.70 386.40 L157.60 386.40 L157.60 385.20 L159.40 385.20 L159.40 379.40 L161.20 379.40 L161.20 373.50 L162.90 373.50 L162.90 367.60 L165.30 367.60 L165.30 361.70 L165.90 361.70 L165.90 358.20 L168.20 358.20 L168.20 354.70 L169.40 354.70 L169.40 348.10 L174.10 348.10 L174.10 347.00 L176.40 347.00 L176.40 344.60 L179.40 344.60 L179.40 341.10 L181.70 341.10 L181.70 338.70 L182.90 338.70 L182.90 335.20 L184.10 335.20 L184.10 329.40 L184.70 329.40 L184.70 323.50 L187.00 323.50 L187.00 320.00 L191.70 320.00 L191.70 319.40 L192.90 319.40 L192.90 317.00 L194.60 317.00 L194.60 313.30 L219.50 313.30 L219.50 307.20 L313.90 307.20" fill="none" stroke="#2e3a8f" stroke-width="1.25" stroke-linejoin="miter"/>
<rect x="236.70" y="359.00" width="72.50" height="14.20" fill="#ee705f"/>
<rect x="236.70" y="373.00" width="72.50" height="14.10" fill="#ee705f"/>
<rect x="236.70" y="386.90" width="58.00" height="14.00" fill="#ee705f"/>
<rect x="236.70" y="400.70" width="43.50" height="14.10" fill="#ee705f"/>
<rect x="236.70" y="414.60" width="29.00" height="14.20" fill="#ee705f"/>
<rect x="236.70" y="428.60" width="14.50" height="14.10" fill="#ee705f"/>
<text x="243.95" y="369.00" font-size="8.60" text-anchor="middle" font-weight="normal" fill="#2b1a16" >f</text>
<text x="258.45" y="369.00" font-size="8.60" text-anchor="middle" font-weight="normal" fill="#2b1a16" >f</text>
<text x="272.95" y="369.00" font-size="8.60" text-anchor="middle" font-weight="normal" fill="#2b1a16" >f</text>
<text x="287.45" y="369.00" font-size="8.60" text-anchor="middle" font-weight="normal" fill="#2b1a16" >f</text>
<text x="301.95" y="369.00" font-size="8.60" text-anchor="middle" font-weight="normal" fill="#2b1a16" >f</text>
<text x="316.45" y="369.00" font-size="8.60" text-anchor="middle" font-weight="normal" fill="#2b1a16" >a</text>
<text x="243.95" y="382.95" font-size="8.60" text-anchor="middle" font-weight="normal" fill="#2b1a16" >f</text>
<text x="258.45" y="382.95" font-size="8.60" text-anchor="middle" font-weight="normal" fill="#2b1a16" >f</text>
<text x="272.95" y="382.95" font-size="8.60" text-anchor="middle" font-weight="normal" fill="#2b1a16" >f</text>
<text x="287.45" y="382.95" font-size="8.60" text-anchor="middle" font-weight="normal" fill="#2b1a16" >f</text>
<text x="301.95" y="382.95" font-size="8.60" text-anchor="middle" font-weight="normal" fill="#2b1a16" >f</text>
<text x="243.95" y="396.80" font-size="8.60" text-anchor="middle" font-weight="normal" fill="#2b1a16" >f</text>
<text x="258.45" y="396.80" font-size="8.60" text-anchor="middle" font-weight="normal" fill="#2b1a16" >f</text>
<text x="272.95" y="396.80" font-size="8.60" text-anchor="middle" font-weight="normal" fill="#2b1a16" >f</text>
<text x="287.45" y="396.80" font-size="8.60" text-anchor="middle" font-weight="normal" fill="#2b1a16" >f</text>
<text x="243.95" y="410.65" font-size="8.60" text-anchor="middle" font-weight="normal" fill="#2b1a16" >f</text>
<text x="258.45" y="410.65" font-size="8.60" text-anchor="middle" font-weight="normal" fill="#2b1a16" >f</text>
<text x="272.95" y="410.65" font-size="8.60" text-anchor="middle" font-weight="normal" fill="#2b1a16" >f</text>
<text x="243.95" y="424.60" font-size="8.60" text-anchor="middle" font-weight="normal" fill="#2b1a16" >f</text>
<text x="258.45" y="424.60" font-size="8.60" text-anchor="middle" font-weight="normal" fill="#2b1a16" >e</text>
<text x="243.95" y="438.55" font-size="8.60" text-anchor="middle" font-weight="normal" fill="#2b1a16" >c</text>
<line x1="235.90" y1="358.40" x2="235.90" y2="444.40" stroke="#1a1a1a" stroke-width="1.20" />
<line x1="235.30" y1="443.80" x2="325.20" y2="443.80" stroke="#1a1a1a" stroke-width="1.20" />
<line x1="232.60" y1="366.00" x2="235.90" y2="366.00" stroke="#1a1a1a" stroke-width="1.10" />
<text x="229.60" y="369.00" font-size="8.60" text-anchor="end" font-weight="normal" fill="#231f20" >&gt;= 3</text>
<line x1="232.60" y1="379.95" x2="235.90" y2="379.95" stroke="#1a1a1a" stroke-width="1.10" />
<text x="229.60" y="382.95" font-size="8.60" text-anchor="end" font-weight="normal" fill="#231f20" >2</text>
<line x1="232.60" y1="393.80" x2="235.90" y2="393.80" stroke="#1a1a1a" stroke-width="1.10" />
<text x="229.60" y="396.80" font-size="8.60" text-anchor="end" font-weight="normal" fill="#231f20" >1</text>
<line x1="232.60" y1="407.65" x2="235.90" y2="407.65" stroke="#1a1a1a" stroke-width="1.10" />
<text x="229.60" y="410.65" font-size="8.60" text-anchor="end" font-weight="normal" fill="#231f20" >0</text>
<line x1="232.60" y1="421.60" x2="235.90" y2="421.60" stroke="#1a1a1a" stroke-width="1.10" />
<text x="229.60" y="424.60" font-size="8.60" text-anchor="end" font-weight="normal" fill="#231f20" >&#8722;1</text>
<line x1="232.60" y1="435.55" x2="235.90" y2="435.55" stroke="#1a1a1a" stroke-width="1.10" />
<text x="229.60" y="438.55" font-size="8.60" text-anchor="end" font-weight="normal" fill="#231f20" >&#8722;2</text>
<line x1="243.95" y1="443.80" x2="243.95" y2="446.80" stroke="#1a1a1a" stroke-width="1.10" />
<text transform="translate(247.55 453.8) rotate(-45)" font-size="8.2" text-anchor="end" fill="#231f20">&lt;=&#8722;3</text>
<line x1="258.45" y1="443.80" x2="258.45" y2="446.80" stroke="#1a1a1a" stroke-width="1.10" />
<text transform="translate(262.05 453.8) rotate(-45)" font-size="8.2" text-anchor="end" fill="#231f20">&#8722;2</text>
<line x1="272.95" y1="443.80" x2="272.95" y2="446.80" stroke="#1a1a1a" stroke-width="1.10" />
<text transform="translate(276.55 453.8) rotate(-45)" font-size="8.2" text-anchor="end" fill="#231f20">&#8722;1</text>
<line x1="287.45" y1="443.80" x2="287.45" y2="446.80" stroke="#1a1a1a" stroke-width="1.10" />
<text transform="translate(291.05 453.8) rotate(-45)" font-size="8.2" text-anchor="end" fill="#231f20">0</text>
<line x1="301.95" y1="443.80" x2="301.95" y2="446.80" stroke="#1a1a1a" stroke-width="1.10" />
<text transform="translate(305.55 453.8) rotate(-45)" font-size="8.2" text-anchor="end" fill="#231f20">1</text>
<line x1="316.45" y1="443.80" x2="316.45" y2="446.80" stroke="#1a1a1a" stroke-width="1.10" />
<text transform="translate(320.05 453.8) rotate(-45)" font-size="8.2" text-anchor="end" fill="#231f20">2</text>
<text x="280.70" y="469.80" font-size="8.40" text-anchor="middle" font-weight="normal" fill="#231f20" >&#916;UAG</text>
<text transform="translate(217.2 400.8) rotate(-90)" font-size="9.2" text-anchor="middle" fill="#231f20">&#916;UAG</text>
<rect x="268.00" y="418.30" width="38.80" height="11.30" fill="#fff" stroke="#9a9a9a" stroke-width="0.8"/>
<rect x="269.60" y="419.50" width="9.8" height="8.90" fill="#f08070"/>
<text x="280.10" y="426.90" font-size="8.00" text-anchor="start" font-weight="normal" fill="#1a1a1a" >p&#8804;0.05</text>
<text x="333.60" y="310.20" font-size="24.00" text-anchor="start" font-weight="bold" fill="#231f20" >E</text>
<line x1="387.00" y1="299.30" x2="387.00" y2="477.65" stroke="#1a1a1a" stroke-width="1.30" />
<line x1="386.35" y1="477.00" x2="649.00" y2="477.00" stroke="#1a1a1a" stroke-width="1.30" />
<line x1="384.00" y1="307.20" x2="387.00" y2="307.20" stroke="#1a1a1a" stroke-width="1.10" />
<text x="380.60" y="311.30" font-size="11.30" text-anchor="end" font-weight="normal" fill="#1a1a1a" >1.00</text>
<line x1="384.00" y1="347.60" x2="387.00" y2="347.60" stroke="#1a1a1a" stroke-width="1.10" />
<text x="380.60" y="351.70" font-size="11.30" text-anchor="end" font-weight="normal" fill="#1a1a1a" >0.75</text>
<line x1="384.00" y1="388.00" x2="387.00" y2="388.00" stroke="#1a1a1a" stroke-width="1.10" />
<text x="380.60" y="392.10" font-size="11.30" text-anchor="end" font-weight="normal" fill="#1a1a1a" >0.50</text>
<line x1="384.00" y1="428.40" x2="387.00" y2="428.40" stroke="#1a1a1a" stroke-width="1.10" />
<text x="380.60" y="432.50" font-size="11.30" text-anchor="end" font-weight="normal" fill="#1a1a1a" >0.25</text>
<line x1="384.00" y1="468.60" x2="387.00" y2="468.60" stroke="#1a1a1a" stroke-width="1.10" />
<text x="380.60" y="472.70" font-size="11.30" text-anchor="end" font-weight="normal" fill="#1a1a1a" >0.00</text>
<line x1="399.45" y1="477.00" x2="399.45" y2="480.00" stroke="#1a1a1a" stroke-width="1.10" />
<text x="399.45" y="491.90" font-size="11.30" text-anchor="middle" font-weight="normal" fill="#1a1a1a" >&#8722;3</text>
<line x1="446.90" y1="477.00" x2="446.90" y2="480.00" stroke="#1a1a1a" stroke-width="1.10" />
<text x="446.90" y="491.90" font-size="11.30" text-anchor="middle" font-weight="normal" fill="#1a1a1a" >&#8722;2</text>
<line x1="494.35" y1="477.00" x2="494.35" y2="480.00" stroke="#1a1a1a" stroke-width="1.10" />
<text x="494.35" y="491.90" font-size="11.30" text-anchor="middle" font-weight="normal" fill="#1a1a1a" >&#8722;1</text>
<line x1="541.80" y1="477.00" x2="541.80" y2="480.00" stroke="#1a1a1a" stroke-width="1.10" />
<text x="541.80" y="491.90" font-size="11.30" text-anchor="middle" font-weight="normal" fill="#1a1a1a" >0</text>
<line x1="589.25" y1="477.00" x2="589.25" y2="480.00" stroke="#1a1a1a" stroke-width="1.10" />
<text x="589.25" y="491.90" font-size="11.30" text-anchor="middle" font-weight="normal" fill="#1a1a1a" >1</text>
<line x1="636.70" y1="477.00" x2="636.70" y2="480.00" stroke="#1a1a1a" stroke-width="1.10" />
<text x="636.70" y="491.90" font-size="11.30" text-anchor="middle" font-weight="normal" fill="#1a1a1a" >2</text>
<text transform="translate(352.2 388.0) rotate(-90)" font-size="14.0" text-anchor="middle" fill="#1a1a1a">Cumulative Distribution</text>
<text x="518.3" y="508.0" font-size="14.0" text-anchor="middle" fill="#1a1a1a">RiboSeq Fold Change, Log<tspan font-size="9.5" dy="3">2</tspan></text>
<rect x="401.3" y="310.9" width="83.7" height="3.5" fill="#231f20"/>
<path d="M415.6 312.6 C414.2 309.5 414.0 305 414.9 301.5 C416.0 298.0 419.5 296.2 423.4 296.3 C427.8 296.4 431.6 298.6 432.8 302.6 C433.6 305.6 433.0 309.6 431.6 312.6 Z" fill="#6f4492"/>
<path d="M415.0 313.8 C414.0 316.6 415.6 319.6 421.0 320.3 C426.5 320.9 432.0 319.6 433.2 316.9 C433.6 315.5 432.8 314.2 431.8 313.8 Z" fill="#6f4492"/>
<circle cx="421.9" cy="312.7" r="1.9" fill="#231f20"/>
<circle cx="471.7" cy="312.4" r="5.6" fill="#e52e3a"/>
<rect x="457.5" y="290.3" width="28.2" height="12.3" rx="2.6" fill="#6ab55e" stroke="#444" stroke-width="0.9"/>
<path d="M471.1 288.6 C469 281 463.5 278 457.8 278 C450 278.2 442.5 288 440.3 299.6" fill="none" stroke="#231f20" stroke-width="0.9"/>
<line x1="434.30" y1="299.30" x2="445.60" y2="300.60" stroke="#231f20" stroke-width="0.90" />
<text x="393.60" y="337.30" font-size="11.10" text-anchor="start" font-weight="bold" fill="#1a1a1a" >nsRBNS</text>
<line x1="393.80" y1="347.40" x2="401.50" y2="347.40" stroke="#1a1a1a" stroke-width="1.30" stroke-dasharray="1.2 2.6"/>
<text x="409.80" y="350.20" font-size="10.10" text-anchor="start" font-weight="normal" fill="#1a1a1a" >less enrichment</text>
<line x1="393.60" y1="358.10" x2="402.70" y2="358.10" stroke="#1a1a1a" stroke-width="1.30" />
<text x="409.80" y="361.00" font-size="10.10" text-anchor="start" font-weight="normal" fill="#1a1a1a" >better enrichment</text>
<text x="397.50" y="375.00" font-size="11.10" text-anchor="start" font-weight="bold" fill="#1a1a1a" >iCLIP</text>
<line x1="397.90" y1="388.80" x2="406.70" y2="388.80" stroke="#2f6378" stroke-width="1.50" />
<line x1="397.90" y1="404.00" x2="406.70" y2="404.00" stroke="#c2307f" stroke-width="1.50" />
<line x1="397.90" y1="419.80" x2="406.70" y2="419.80" stroke="#dfa3c6" stroke-width="1.50" />
<text x="413.60" y="386.40" font-size="10.10" text-anchor="start" font-weight="normal" fill="#1a1a1a" >human &amp;</text>
<text x="413.60" y="397.60" font-size="10.10" text-anchor="start" font-weight="normal" fill="#1a1a1a" >mouse bound</text>
<text x="413.60" y="407.90" font-size="10.10" text-anchor="start" font-weight="normal" fill="#1a1a1a" >human bound</text>
<text x="413.60" y="418.10" font-size="10.10" text-anchor="start" font-weight="normal" fill="#1a1a1a" >human</text>
<text x="413.60" y="428.80" font-size="10.10" text-anchor="start" font-weight="normal" fill="#1a1a1a" >unbound</text>
<path d="M387.30 467.80 C398.45 467.23 442.18 465.62 454.20 464.40 C466.22 463.18 457.43 461.93 459.40 460.50 C461.37 459.07 464.05 457.18 466.00 455.80 C467.95 454.42 469.43 453.70 471.10 452.20 C472.77 450.70 474.35 448.62 476.00 446.80 C477.65 444.98 479.47 442.93 481.00 441.30 C482.53 439.67 483.62 438.72 485.20 437.00 C486.78 435.28 488.12 433.97 490.50 431.00 C492.88 428.03 496.75 422.95 499.50 419.20 C502.25 415.45 504.48 412.12 507.00 408.50 C509.52 404.88 512.25 401.08 514.60 397.50 C516.95 393.92 519.23 390.32 521.10 387.00 C522.97 383.68 524.43 380.15 525.80 377.60 C527.17 375.05 527.68 373.88 529.30 371.70 C530.92 369.52 533.43 366.87 535.50 364.50 C537.57 362.13 539.68 360.42 541.70 357.50 C543.72 354.58 545.65 350.13 547.60 347.00 C549.55 343.87 551.45 341.05 553.40 338.70 C555.35 336.35 557.33 334.55 559.30 332.90 C561.27 331.25 562.58 330.02 565.20 328.80 C567.82 327.58 570.87 326.90 575.00 325.60 C579.13 324.30 585.00 322.42 590.00 321.00 C595.00 319.58 600.00 318.30 605.00 317.10 C610.00 315.90 614.17 314.90 620.00 313.80 C625.83 312.70 635.17 311.22 640.00 310.50 C644.83 309.78 647.50 309.67 649.00 309.50" fill="none" stroke="#dfa3c6" stroke-width="1.7" stroke-dasharray="0.1 3.7" stroke-linecap="round"/>
<path d="M387.30 467.50 C397.32 467.10 435.62 466.35 447.40 465.10 C459.18 463.85 455.03 461.75 458.00 460.00 C460.97 458.25 463.02 456.87 465.20 454.60 C467.38 452.33 469.13 449.33 471.10 446.40 C473.07 443.47 475.23 439.73 477.00 437.00 C478.77 434.27 480.13 432.55 481.70 430.00 C483.27 427.45 484.77 424.53 486.40 421.70 C488.03 418.87 489.55 416.17 491.50 413.00 C493.45 409.83 496.05 405.62 498.10 402.70 C500.15 399.78 501.93 398.32 503.80 395.50 C505.67 392.68 507.60 388.98 509.30 385.80 C511.00 382.62 512.43 379.33 514.00 376.40 C515.57 373.47 517.13 370.93 518.70 368.20 C520.27 365.47 522.30 361.78 523.40 360.00 C524.50 358.22 524.02 359.48 525.30 357.50 C526.58 355.52 528.95 351.42 531.10 348.10 C533.25 344.78 536.05 340.53 538.20 337.60 C540.35 334.67 541.85 332.65 544.00 330.50 C546.15 328.35 548.93 326.65 551.10 324.70 C553.27 322.75 554.85 320.48 557.00 318.80 C559.15 317.12 561.67 315.57 564.00 314.60 C566.33 313.63 568.33 313.40 571.00 313.00 C573.67 312.60 575.17 312.62 580.00 312.20 C584.83 311.78 593.33 310.95 600.00 310.50 C606.67 310.05 611.83 309.83 620.00 309.50 C628.17 309.17 644.17 308.67 649.00 308.50" fill="none" stroke="#c2307f" stroke-width="1.7" stroke-dasharray="0.1 3.7" stroke-linecap="round"/>
<path d="M387.30 467.30 C392.75 467.18 409.98 467.32 420.00 466.60 C430.02 465.88 440.83 464.60 447.40 463.00 C453.97 461.40 456.63 459.38 459.40 457.00 C462.17 454.62 462.45 451.63 464.00 448.70 C465.55 445.77 467.13 442.33 468.70 439.40 C470.27 436.47 472.02 433.45 473.40 431.10 C474.78 428.75 475.82 427.25 477.00 425.30 C478.18 423.35 479.13 421.57 480.50 419.40 C481.87 417.23 483.63 415.30 485.20 412.30 C486.77 409.30 488.82 403.67 489.90 401.40 C490.98 399.13 490.42 401.10 491.70 398.70 C492.98 396.30 495.63 390.92 497.60 387.00 C499.57 383.08 501.73 378.53 503.50 375.20 C505.27 371.87 506.48 369.87 508.20 367.00 C509.92 364.13 512.13 360.75 513.80 358.00 C515.47 355.25 516.68 353.12 518.20 350.50 C519.72 347.88 521.13 345.43 522.90 342.30 C524.67 339.17 526.83 334.63 528.80 331.70 C530.77 328.77 532.75 326.57 534.70 324.70 C536.65 322.83 538.75 321.68 540.50 320.50 C542.25 319.32 543.23 318.67 545.20 317.60 C547.17 316.53 550.15 315.05 552.30 314.10 C554.45 313.15 553.48 312.50 558.10 311.90 C562.72 311.30 569.68 311.13 580.00 310.50 C590.32 309.87 608.50 308.55 620.00 308.10 C631.50 307.65 644.17 307.85 649.00 307.80" fill="none" stroke="#2f6378" stroke-width="1.7" stroke-dasharray="0.1 3.7" stroke-linecap="round"/>
<path d="M387.30 468.30 C392.75 468.17 412.88 468.02 420.00 467.50 C427.12 466.98 425.60 466.17 430.00 465.20 C434.40 464.23 442.48 462.68 446.40 461.70 C450.32 460.72 451.53 460.68 453.50 459.30 C455.47 457.92 456.83 454.87 458.20 453.40 C459.57 451.93 460.33 451.67 461.70 450.50 C463.07 449.33 464.83 448.25 466.40 446.40 C467.97 444.55 469.73 441.55 471.10 439.40 C472.47 437.25 473.23 435.85 474.60 433.50 C475.97 431.15 477.73 427.65 479.30 425.30 C480.87 422.95 482.43 421.37 484.00 419.40 C485.57 417.43 486.58 416.05 488.70 413.50 C490.82 410.95 494.82 406.67 496.70 404.10 C498.58 401.53 498.48 400.77 500.00 398.10 C501.52 395.43 504.05 391.33 505.80 388.10 C507.55 384.87 508.93 381.83 510.50 378.70 C512.07 375.57 513.80 372.28 515.20 369.30 C516.60 366.32 517.72 363.53 518.90 360.80 C520.08 358.07 521.15 355.12 522.30 352.90 C523.45 350.68 524.63 348.85 525.80 347.50 C526.97 346.15 527.63 346.27 529.30 344.80 C530.97 343.33 533.93 340.50 535.80 338.70 C537.67 336.90 538.93 335.55 540.50 334.00 C542.07 332.45 543.23 330.95 545.20 329.40 C547.17 327.85 549.95 326.08 552.30 324.70 C554.65 323.32 556.95 322.08 559.30 321.10 C561.65 320.12 563.78 319.42 566.40 318.80 C569.02 318.18 571.57 317.90 575.00 317.40 C578.43 316.90 582.83 316.40 587.00 315.80 C591.17 315.20 594.50 314.47 600.00 313.80 C605.50 313.13 613.33 312.45 620.00 311.80 C626.67 311.15 635.17 310.33 640.00 309.90 C644.83 309.47 647.50 309.32 649.00 309.20" fill="none" stroke="#dfa3c6" stroke-width="1.5"/>
<path d="M387.30 467.80 C392.75 467.80 412.88 467.95 420.00 467.80 C427.12 467.65 426.38 467.63 430.00 466.90 C433.62 466.17 438.57 464.67 441.70 463.40 C444.83 462.13 446.63 460.97 448.80 459.30 C450.97 457.63 452.93 455.35 454.70 453.40 C456.47 451.45 458.03 449.55 459.40 447.60 C460.77 445.65 461.73 444.05 462.90 441.70 C464.07 439.35 465.23 436.05 466.40 433.50 C467.57 430.95 468.73 428.75 469.90 426.40 C471.07 424.05 472.22 421.75 473.40 419.40 C474.58 417.05 475.40 415.53 477.00 412.30 C478.60 409.07 480.93 403.83 483.00 400.00 C485.07 396.17 487.35 392.65 489.40 389.30 C491.45 385.95 493.35 382.83 495.30 379.90 C497.25 376.97 499.55 374.25 501.10 371.70 C502.65 369.15 503.42 367.15 504.60 364.60 C505.78 362.05 506.82 358.73 508.20 356.40 C509.58 354.07 511.38 352.50 512.90 350.60 C514.42 348.70 515.83 346.78 517.30 345.00 C518.77 343.22 519.78 341.53 521.70 339.90 C523.62 338.27 526.25 337.35 528.80 335.20 C531.35 333.05 534.27 329.45 537.00 327.00 C539.73 324.55 543.05 322.07 545.20 320.50 C547.35 318.93 547.93 318.57 549.90 317.60 C551.87 316.63 554.85 315.60 557.00 314.70 C559.15 313.80 560.13 312.95 562.80 312.20 C565.47 311.45 566.80 310.65 573.00 310.20 C579.20 309.75 592.17 309.72 600.00 309.50 C607.83 309.28 611.83 309.13 620.00 308.90 C628.17 308.67 644.17 308.23 649.00 308.10" fill="none" stroke="#c2307f" stroke-width="1.5"/>
<path d="M387.30 467.50 C389.42 467.47 394.55 467.42 400.00 467.30 C405.45 467.18 415.00 467.25 420.00 466.80 C425.00 466.35 427.17 465.27 430.00 464.60 C432.83 463.93 434.65 463.38 437.00 462.80 C439.35 462.22 442.33 462.07 444.10 461.10 C445.87 460.13 446.03 458.67 447.60 457.00 C449.17 455.33 451.73 452.67 453.50 451.10 C455.27 449.53 456.83 448.97 458.20 447.60 C459.57 446.23 460.53 444.67 461.70 442.90 C462.87 441.13 464.03 439.35 465.20 437.00 C466.37 434.65 467.52 431.35 468.70 428.80 C469.88 426.25 471.12 424.05 472.30 421.70 C473.48 419.35 474.83 416.65 475.80 414.70 C476.77 412.75 477.13 412.00 478.10 410.00 C479.07 408.00 480.12 406.15 481.60 402.70 C483.08 399.25 485.32 393.10 487.00 389.30 C488.68 385.50 490.32 383.03 491.70 379.90 C493.08 376.77 494.12 373.05 495.30 370.50 C496.48 367.95 497.63 367.13 498.80 364.60 C499.97 362.07 501.13 357.63 502.30 355.30 C503.47 352.97 504.58 352.38 505.80 350.60 C507.02 348.82 508.15 347.03 509.60 344.60 C511.05 342.17 512.48 338.73 514.50 336.00 C516.52 333.27 519.32 330.48 521.70 328.20 C524.08 325.92 526.25 324.07 528.80 322.30 C531.35 320.53 534.47 319.07 537.00 317.60 C539.53 316.13 542.05 314.38 544.00 313.50 C545.95 312.62 546.53 312.60 548.70 312.30 C550.87 312.00 553.45 311.88 557.00 311.70 C560.55 311.52 562.83 311.50 570.00 311.20 C577.17 310.90 591.67 310.28 600.00 309.90 C608.33 309.52 611.83 309.20 620.00 308.90 C628.17 308.60 644.17 308.23 649.00 308.10" fill="none" stroke="#2f6378" stroke-width="1.5"/>
<text x="623.50" y="320.20" font-size="7.80" text-anchor="middle" font-weight="normal" fill="#1a1a1a" >Only Better</text>
<text x="623.50" y="328.50" font-size="7.80" text-anchor="middle" font-weight="normal" fill="#1a1a1a" >Enrichment</text>
<rect x="599.2" y="332.9" width="47.8" height="23.9" fill="#ee705f"/>
<rect x="599.2" y="356.8" width="24.0" height="23.0" fill="#c8c8c8"/>
<text x="611.40" y="347.80" font-size="9.20" text-anchor="middle" font-weight="normal" fill="#2b1a16" >f</text>
<text x="634.80" y="347.80" font-size="9.20" text-anchor="middle" font-weight="normal" fill="#2b1a16" >e</text>
<text x="611.40" y="371.70" font-size="9.20" text-anchor="middle" font-weight="normal" fill="#2b1a16" >b</text>
<line x1="598.00" y1="330.30" x2="598.00" y2="382.40" stroke="#1a1a1a" stroke-width="1.20" />
<line x1="597.40" y1="381.80" x2="648.60" y2="381.80" stroke="#1a1a1a" stroke-width="1.20" />
<line x1="594.80" y1="344.60" x2="598.00" y2="344.60" stroke="#1a1a1a" stroke-width="1.10" />
<line x1="594.80" y1="368.50" x2="598.00" y2="368.50" stroke="#1a1a1a" stroke-width="1.10" />
<line x1="611.40" y1="381.80" x2="611.40" y2="384.80" stroke="#1a1a1a" stroke-width="1.10" />
<line x1="634.80" y1="381.80" x2="634.80" y2="384.80" stroke="#1a1a1a" stroke-width="1.10" />
<use href="#humw" transform="translate(570.20 336.00) scale(0.570)"/>
<use href="#mou" transform="translate(578.80 335.50) scale(0.780)"/>
<use href="#hum" transform="translate(570.20 360.00) scale(0.570)"/>
<use href="#mouw" transform="translate(578.80 359.50) scale(0.780)"/>
<use href="#hum" transform="translate(599.80 385.50) scale(0.570)"/>
<use href="#mou" transform="translate(606.60 384.60) scale(0.780)"/>
<use href="#hum" transform="translate(624.00 385.50) scale(0.570)"/>
<use href="#mouw" transform="translate(630.80 384.60) scale(0.780)"/>
<rect x="579.7" y="403.1" width="67.5" height="23.8" fill="#ee705f"/>
<text x="591.00" y="418.60" font-size="9.20" text-anchor="middle" font-weight="normal" fill="#2b1a16" >e</text>
<text x="613.50" y="418.60" font-size="9.20" text-anchor="middle" font-weight="normal" fill="#2b1a16" >f</text>
<text x="635.80" y="418.60" font-size="9.20" text-anchor="middle" font-weight="normal" fill="#2b1a16" >f</text>
<line x1="577.90" y1="401.30" x2="577.90" y2="429.30" stroke="#1a1a1a" stroke-width="1.20" />
<line x1="577.30" y1="428.70" x2="649.00" y2="428.70" stroke="#1a1a1a" stroke-width="1.20" />
<line x1="574.50" y1="414.80" x2="577.90" y2="414.80" stroke="#1a1a1a" stroke-width="1.10" />
<line x1="591.00" y1="428.70" x2="591.00" y2="431.90" stroke="#1a1a1a" stroke-width="1.10" />
<line x1="613.50" y1="428.70" x2="613.50" y2="431.90" stroke="#1a1a1a" stroke-width="1.10" />
<line x1="635.80" y1="428.70" x2="635.80" y2="431.90" stroke="#1a1a1a" stroke-width="1.10" />
<text x="571.40" y="413.80" font-size="6.40" text-anchor="end" font-weight="normal" fill="#1a1a1a" >Less vs.</text>
<text x="571.40" y="420.30" font-size="6.40" text-anchor="end" font-weight="normal" fill="#1a1a1a" >Better</text>
<use href="#hum" transform="translate(578.80 432.20) scale(0.570)"/>
<use href="#mou" transform="translate(585.60 431.40) scale(0.780)"/>
<use href="#hum" transform="translate(601.30 432.20) scale(0.570)"/>
<use href="#mouw" transform="translate(608.10 431.40) scale(0.780)"/>
<use href="#humw" transform="translate(623.50 432.20) scale(0.570)"/>
<use href="#mou" transform="translate(630.30 431.40) scale(0.780)"/>
<rect x="596.6" y="450.3" width="52.0" height="22.6" fill="#fff" stroke="#9a9a9a" stroke-width="0.8"/>
<use href="#hum" transform="translate(596.00 450.20) scale(0.360)"/>
<use href="#mou" transform="translate(601.60 450.80) scale(0.550)"/>
<use href="#humw" transform="translate(596.00 460.60) scale(0.360)"/>
<use href="#mouw" transform="translate(601.60 461.20) scale(0.550)"/>
<text x="615.60" y="460.20" font-size="7.90" text-anchor="start" font-weight="normal" fill="#1a1a1a" >Bound</text>
<text x="615.60" y="470.60" font-size="7.90" text-anchor="start" font-weight="normal" fill="#1a1a1a" >Unbound</text>
<rect x="555.60" y="461.40" width="38.10" height="11.40" fill="#fff" stroke="#9a9a9a" stroke-width="0.8"/>
<rect x="557.20" y="462.60" width="9.8" height="9.00" fill="#f08070"/>
<text x="567.70" y="470.00" font-size="8.00" text-anchor="start" font-weight="normal" fill="#1a1a1a" >p&#8804;0.05</text>
</svg>
</body></html>
